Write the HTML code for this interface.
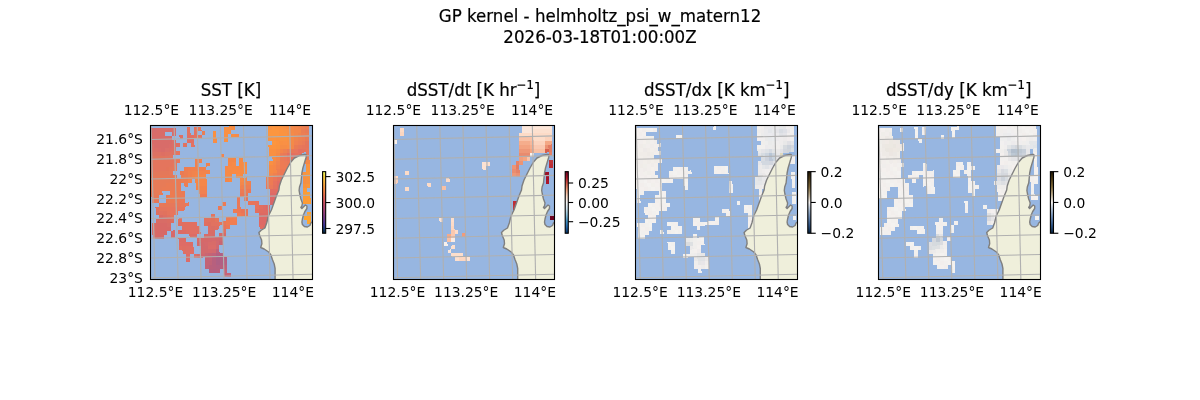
<!DOCTYPE html>
<html><head><meta charset="utf-8"><title>GP kernel - helmholtz_psi_w_matern12</title>
<style>html,body{margin:0;padding:0;background:#fff}svg{display:block}text{font-family:"DejaVu Sans","Liberation Sans",sans-serif;fill:#000}</style></head>
<body>
<svg width="1200" height="400" viewBox="0 0 1200 400">
<rect width="1200" height="400" fill="#fff"/>
<text transform="translate(600 22.1) scale(1 1.1)" font-size="16.67" text-anchor="middle" stroke="#000" stroke-width="0.2">GP kernel - helmholtz_psi_w_matern12</text>
<text transform="translate(600 42.9) scale(1 1.1)" font-size="16.67" text-anchor="middle" stroke="#000" stroke-width="0.2">2026-03-18T01:00:00Z</text>
<g transform="translate(150.5 125.5)"><clipPath id="c0"><rect x="0" y="0" width="162" height="154"/></clipPath><g clip-path="url(#c0)"><rect x="-1" y="-1" width="164" height="156" fill="#97b6e1"/><g transform="translate(0 0)"><g transform="matrix(3.695 -0.082 0.104 3.95 6.6 2.6)" shape-rendering="crispEdges"><rect x="-2" y="0" width="2" height="1" fill="#d56c6c"/><rect x="0" y="0" width="5" height="1" fill="#d86c69"/><rect x="8" y="0" width="1" height="1" fill="#e17260"/><rect x="10" y="0" width="1" height="1" fill="#e4755d"/><rect x="11" y="0" width="1" height="1" fill="#e7785a"/><rect x="18" y="0" width="2" height="1" fill="#f99042"/><rect x="20" y="0" width="1" height="1" fill="#f68d45"/><rect x="30" y="0" width="1" height="1" fill="#f99342"/><rect x="31" y="0" width="1" height="1" fill="#fc963f"/><rect x="32" y="0" width="1" height="1" fill="#fc933f"/><rect x="33" y="0" width="1" height="1" fill="#f99342"/><rect x="34" y="0" width="1" height="1" fill="#f99045"/><rect x="35" y="0" width="1" height="1" fill="#f68d45"/><rect x="36" y="0" width="1" height="1" fill="#f38a4b"/><rect x="37" y="0" width="1" height="1" fill="#f3874b"/><rect x="38" y="0" width="1" height="1" fill="#f0844e"/><rect x="39" y="0" width="1" height="1" fill="#ed8151"/><rect x="40" y="0" width="1" height="1" fill="#ea7e54"/><rect x="-2" y="1" width="4" height="1" fill="#d86c69"/><rect x="4" y="1" width="1" height="1" fill="#d86c69"/><rect x="8" y="1" width="1" height="1" fill="#e17260"/><rect x="10" y="1" width="1" height="1" fill="#e47260"/><rect x="12" y="1" width="1" height="1" fill="#ea7e54"/><rect x="15" y="1" width="1" height="1" fill="#f99042"/><rect x="18" y="1" width="2" height="1" fill="#f99042"/><rect x="30" y="1" width="3" height="1" fill="#fc963f"/><rect x="33" y="1" width="1" height="1" fill="#fc933f"/><rect x="34" y="1" width="1" height="1" fill="#f99342"/><rect x="35" y="1" width="1" height="1" fill="#f99045"/><rect x="36" y="1" width="1" height="1" fill="#f38a48"/><rect x="37" y="1" width="2" height="1" fill="#f3874b"/><rect x="39" y="1" width="1" height="1" fill="#ea7e54"/><rect x="40" y="1" width="1" height="1" fill="#e77b57"/><rect x="-2" y="2" width="6" height="1" fill="#d86c69"/><rect x="6" y="2" width="1" height="1" fill="#de6f63"/><rect x="8" y="2" width="2" height="1" fill="#e16f63"/><rect x="10" y="2" width="1" height="1" fill="#e47260"/><rect x="11" y="2" width="1" height="1" fill="#e4755d"/><rect x="15" y="2" width="1" height="1" fill="#f99042"/><rect x="18" y="2" width="1" height="1" fill="#f99042"/><rect x="20" y="2" width="1" height="1" fill="#f68d45"/><rect x="21" y="2" width="1" height="1" fill="#f68a48"/><rect x="30" y="2" width="3" height="1" fill="#fc963f"/><rect x="33" y="2" width="2" height="1" fill="#fc933f"/><rect x="35" y="2" width="1" height="1" fill="#f99042"/><rect x="36" y="2" width="1" height="1" fill="#f68a48"/><rect x="37" y="2" width="1" height="1" fill="#f3874b"/><rect x="38" y="2" width="1" height="1" fill="#f0844e"/><rect x="39" y="2" width="1" height="1" fill="#ed7e54"/><rect x="40" y="2" width="1" height="1" fill="#ea7e54"/><rect x="-2" y="3" width="6" height="1" fill="#d86c69"/><rect x="4" y="3" width="1" height="1" fill="#db6f69"/><rect x="8" y="3" width="2" height="1" fill="#e16f63"/><rect x="15" y="3" width="1" height="1" fill="#f68d45"/><rect x="18" y="3" width="1" height="1" fill="#f99042"/><rect x="30" y="3" width="1" height="1" fill="#f99342"/><rect x="31" y="3" width="1" height="1" fill="#fc933f"/><rect x="32" y="3" width="1" height="1" fill="#f9933f"/><rect x="33" y="3" width="2" height="1" fill="#f99342"/><rect x="35" y="3" width="1" height="1" fill="#f99042"/><rect x="36" y="3" width="1" height="1" fill="#f38a48"/><rect x="37" y="3" width="1" height="1" fill="#f0844e"/><rect x="38" y="3" width="1" height="1" fill="#ed8151"/><rect x="39" y="3" width="1" height="1" fill="#ed7e54"/><rect x="40" y="3" width="1" height="1" fill="#e77b57"/><rect x="-2" y="4" width="1" height="1" fill="#db6f69"/><rect x="-1" y="4" width="4" height="1" fill="#d86c69"/><rect x="3" y="4" width="1" height="1" fill="#db6c69"/><rect x="4" y="4" width="1" height="1" fill="#db6f66"/><rect x="5" y="4" width="1" height="1" fill="#de6f63"/><rect x="7" y="4" width="1" height="1" fill="#e17260"/><rect x="9" y="4" width="1" height="1" fill="#e47260"/><rect x="31" y="4" width="1" height="1" fill="#fc963f"/><rect x="32" y="4" width="1" height="1" fill="#fc933f"/><rect x="33" y="4" width="1" height="1" fill="#f99042"/><rect x="34" y="4" width="1" height="1" fill="#f99045"/><rect x="35" y="4" width="1" height="1" fill="#f99042"/><rect x="36" y="4" width="1" height="1" fill="#f38a48"/><rect x="37" y="4" width="1" height="1" fill="#f08151"/><rect x="38" y="4" width="1" height="1" fill="#ed7e54"/><rect x="39" y="4" width="1" height="1" fill="#ea7b57"/><rect x="40" y="4" width="1" height="1" fill="#e4755a"/><rect x="-2" y="5" width="2" height="1" fill="#db6f66"/><rect x="0" y="5" width="1" height="1" fill="#db6c69"/><rect x="1" y="5" width="1" height="1" fill="#d86c69"/><rect x="2" y="5" width="1" height="1" fill="#db6f69"/><rect x="3" y="5" width="1" height="1" fill="#db6f66"/><rect x="4" y="5" width="1" height="1" fill="#de6f63"/><rect x="30" y="5" width="1" height="1" fill="#f99342"/><rect x="31" y="5" width="1" height="1" fill="#fc933f"/><rect x="32" y="5" width="1" height="1" fill="#f9933f"/><rect x="33" y="5" width="2" height="1" fill="#f68d45"/><rect x="35" y="5" width="1" height="1" fill="#f98d45"/><rect x="36" y="5" width="1" height="1" fill="#f3874b"/><rect x="37" y="5" width="1" height="1" fill="#ea7b54"/><rect x="38" y="5" width="1" height="1" fill="#e7785a"/><rect x="39" y="5" width="1" height="1" fill="#e7755a"/><rect x="40" y="5" width="1" height="1" fill="#e4755a"/><rect x="-2" y="6" width="3" height="1" fill="#de7263"/><rect x="1" y="6" width="1" height="1" fill="#de6f63"/><rect x="2" y="6" width="2" height="1" fill="#de7263"/><rect x="4" y="6" width="1" height="1" fill="#e17260"/><rect x="5" y="6" width="1" height="1" fill="#e4755d"/><rect x="30" y="6" width="2" height="1" fill="#f99042"/><rect x="32" y="6" width="1" height="1" fill="#f68d45"/><rect x="33" y="6" width="1" height="1" fill="#f3844b"/><rect x="34" y="6" width="1" height="1" fill="#ed8151"/><rect x="35" y="6" width="1" height="1" fill="#ea7b57"/><rect x="36" y="6" width="1" height="1" fill="#e77857"/><rect x="37" y="6" width="1" height="1" fill="#e7755d"/><rect x="38" y="6" width="1" height="1" fill="#e46f60"/><rect x="39" y="6" width="1" height="1" fill="#e4725d"/><rect x="40" y="6" width="1" height="1" fill="#e7755a"/><rect x="-2" y="7" width="1" height="1" fill="#e17560"/><rect x="-1" y="7" width="3" height="1" fill="#e1755d"/><rect x="2" y="7" width="2" height="1" fill="#e17560"/><rect x="17" y="7" width="1" height="1" fill="#f3844b"/><rect x="30" y="7" width="2" height="1" fill="#f99042"/><rect x="32" y="7" width="1" height="1" fill="#f68a45"/><rect x="33" y="7" width="1" height="1" fill="#ed7b54"/><rect x="34" y="7" width="1" height="1" fill="#ea7857"/><rect x="35" y="7" width="2" height="1" fill="#e46f60"/><rect x="37" y="7" width="1" height="1" fill="#e4725d"/><rect x="38" y="7" width="1" height="1" fill="#e47260"/><rect x="40" y="7" width="1" height="1" fill="#e7755a"/><rect x="-2" y="8" width="7" height="1" fill="#e4755d"/><rect x="5" y="8" width="1" height="1" fill="#e7785a"/><rect x="10" y="8" width="2" height="1" fill="#f0814e"/><rect x="19" y="8" width="2" height="1" fill="#f38748"/><rect x="22" y="8" width="1" height="1" fill="#f68a45"/><rect x="31" y="8" width="1" height="1" fill="#f68d45"/><rect x="32" y="8" width="1" height="1" fill="#f3874b"/><rect x="33" y="8" width="1" height="1" fill="#ea7b57"/><rect x="34" y="8" width="1" height="1" fill="#ea785a"/><rect x="35" y="8" width="1" height="1" fill="#e7755a"/><rect x="36" y="8" width="1" height="1" fill="#e4725d"/><rect x="37" y="8" width="2" height="1" fill="#e7755a"/><rect x="39" y="8" width="1" height="1" fill="#e77857"/><rect x="40" y="8" width="1" height="1" fill="#ea7b54"/><rect x="-2" y="9" width="6" height="1" fill="#e4755d"/><rect x="4" y="9" width="1" height="1" fill="#e7785a"/><rect x="10" y="9" width="1" height="1" fill="#f0814e"/><rect x="13" y="9" width="1" height="1" fill="#f0814e"/><rect x="19" y="9" width="1" height="1" fill="#f68748"/><rect x="20" y="9" width="1" height="1" fill="#f68a48"/><rect x="22" y="9" width="1" height="1" fill="#f68a45"/><rect x="23" y="9" width="1" height="1" fill="#f98d42"/><rect x="30" y="9" width="1" height="1" fill="#f99042"/><rect x="31" y="9" width="1" height="1" fill="#f68a48"/><rect x="32" y="9" width="1" height="1" fill="#f0844e"/><rect x="33" y="9" width="1" height="1" fill="#ed7b54"/><rect x="34" y="9" width="1" height="1" fill="#ea7b57"/><rect x="35" y="9" width="2" height="1" fill="#ea7857"/><rect x="37" y="9" width="1" height="1" fill="#ea7b54"/><rect x="38" y="9" width="1" height="1" fill="#ed7e51"/><rect x="39" y="9" width="1" height="1" fill="#f0844e"/><rect x="40" y="9" width="1" height="1" fill="#f38748"/><rect x="-2" y="10" width="4" height="1" fill="#e4755d"/><rect x="2" y="10" width="1" height="1" fill="#e4755a"/><rect x="3" y="10" width="1" height="1" fill="#e4785a"/><rect x="4" y="10" width="1" height="1" fill="#e7785a"/><rect x="7" y="10" width="1" height="1" fill="#ed7e51"/><rect x="8" y="10" width="1" height="1" fill="#f07e51"/><rect x="9" y="10" width="4" height="1" fill="#f0814e"/><rect x="18" y="10" width="1" height="1" fill="#f68748"/><rect x="19" y="10" width="1" height="1" fill="#f68a48"/><rect x="20" y="10" width="3" height="1" fill="#f68a45"/><rect x="23" y="10" width="1" height="1" fill="#f98d45"/><rect x="30" y="10" width="1" height="1" fill="#f68a45"/><rect x="31" y="10" width="1" height="1" fill="#f68748"/><rect x="32" y="10" width="1" height="1" fill="#f0814e"/><rect x="33" y="10" width="3" height="1" fill="#ed7b54"/><rect x="40" y="10" width="1" height="1" fill="#f9933f"/><rect x="-2" y="11" width="5" height="1" fill="#e4785a"/><rect x="3" y="11" width="1" height="1" fill="#e7785a"/><rect x="6" y="11" width="1" height="1" fill="#ea7b54"/><rect x="7" y="11" width="1" height="1" fill="#ed7e51"/><rect x="8" y="11" width="1" height="1" fill="#f0814e"/><rect x="9" y="11" width="1" height="1" fill="#f0844e"/><rect x="10" y="11" width="4" height="1" fill="#f3844b"/><rect x="18" y="11" width="1" height="1" fill="#f68a48"/><rect x="19" y="11" width="1" height="1" fill="#f68a45"/><rect x="20" y="11" width="2" height="1" fill="#f98a45"/><rect x="22" y="11" width="2" height="1" fill="#f68a45"/><rect x="30" y="11" width="1" height="1" fill="#f68a45"/><rect x="31" y="11" width="1" height="1" fill="#f68748"/><rect x="32" y="11" width="1" height="1" fill="#ed7e51"/><rect x="33" y="11" width="2" height="1" fill="#ed7854"/><rect x="35" y="11" width="1" height="1" fill="#ed7b54"/><rect x="40" y="11" width="1" height="1" fill="#f9963c"/><rect x="-2" y="12" width="6" height="1" fill="#e77857"/><rect x="4" y="12" width="1" height="1" fill="#e77b57"/><rect x="6" y="12" width="1" height="1" fill="#ea7e54"/><rect x="7" y="12" width="1" height="1" fill="#ed7e51"/><rect x="8" y="12" width="1" height="1" fill="#f0814e"/><rect x="9" y="12" width="1" height="1" fill="#f3844b"/><rect x="10" y="12" width="3" height="1" fill="#f68748"/><rect x="18" y="12" width="1" height="1" fill="#f68a48"/><rect x="19" y="12" width="1" height="1" fill="#f68a45"/><rect x="21" y="12" width="1" height="1" fill="#f98d45"/><rect x="22" y="12" width="1" height="1" fill="#f68a45"/><rect x="30" y="12" width="1" height="1" fill="#f3874b"/><rect x="31" y="12" width="1" height="1" fill="#f0814e"/><rect x="32" y="12" width="1" height="1" fill="#ed7b54"/><rect x="33" y="12" width="2" height="1" fill="#ed7854"/><rect x="35" y="12" width="1" height="1" fill="#ed7b54"/><rect x="39" y="12" width="1" height="1" fill="#f9933f"/><rect x="40" y="12" width="1" height="1" fill="#f9963c"/><rect x="-2" y="13" width="6" height="1" fill="#e77b57"/><rect x="4" y="13" width="1" height="1" fill="#ea7b57"/><rect x="5" y="13" width="1" height="1" fill="#ea7b54"/><rect x="6" y="13" width="1" height="1" fill="#ea7e54"/><rect x="7" y="13" width="1" height="1" fill="#ed7e51"/><rect x="8" y="13" width="1" height="1" fill="#f0844e"/><rect x="10" y="13" width="3" height="1" fill="#f68748"/><rect x="18" y="13" width="1" height="1" fill="#f38748"/><rect x="19" y="13" width="1" height="1" fill="#f68a45"/><rect x="22" y="13" width="1" height="1" fill="#f68a48"/><rect x="23" y="13" width="1" height="1" fill="#f38748"/><rect x="29" y="13" width="1" height="1" fill="#ed7e54"/><rect x="30" y="13" width="1" height="1" fill="#ed7b54"/><rect x="31" y="13" width="1" height="1" fill="#ea755a"/><rect x="32" y="13" width="1" height="1" fill="#e4725d"/><rect x="33" y="13" width="1" height="1" fill="#e7725a"/><rect x="34" y="13" width="1" height="1" fill="#ea7557"/><rect x="35" y="13" width="1" height="1" fill="#ea7b54"/><rect x="39" y="13" width="1" height="1" fill="#f69042"/><rect x="40" y="13" width="1" height="1" fill="#f6933f"/><rect x="-2" y="14" width="4" height="1" fill="#e77b57"/><rect x="2" y="14" width="4" height="1" fill="#ea7b54"/><rect x="7" y="14" width="1" height="1" fill="#ed7e51"/><rect x="10" y="14" width="3" height="1" fill="#f68748"/><rect x="22" y="14" width="1" height="1" fill="#f3874b"/><rect x="23" y="14" width="1" height="1" fill="#f0844b"/><rect x="24" y="14" width="1" height="1" fill="#f0814e"/><rect x="29" y="14" width="2" height="1" fill="#ed7b54"/><rect x="31" y="14" width="1" height="1" fill="#e7725d"/><rect x="32" y="14" width="1" height="1" fill="#e16c63"/><rect x="33" y="14" width="1" height="1" fill="#e46f60"/><rect x="34" y="14" width="1" height="1" fill="#e7725d"/><rect x="35" y="14" width="1" height="1" fill="#ea7857"/><rect x="39" y="14" width="1" height="1" fill="#f68d42"/><rect x="40" y="14" width="1" height="1" fill="#f69042"/><rect x="-2" y="15" width="3" height="1" fill="#e77b57"/><rect x="1" y="15" width="5" height="1" fill="#ea7b54"/><rect x="10" y="15" width="3" height="1" fill="#f3844b"/><rect x="22" y="15" width="1" height="1" fill="#f0814e"/><rect x="23" y="15" width="1" height="1" fill="#ed7e51"/><rect x="24" y="15" width="1" height="1" fill="#ed7e54"/><rect x="29" y="15" width="1" height="1" fill="#ea7857"/><rect x="30" y="15" width="1" height="1" fill="#ea785a"/><rect x="31" y="15" width="1" height="1" fill="#e4725d"/><rect x="32" y="15" width="1" height="1" fill="#e16c63"/><rect x="33" y="15" width="1" height="1" fill="#e46f60"/><rect x="34" y="15" width="1" height="1" fill="#e4725d"/><rect x="35" y="15" width="1" height="1" fill="#ea7857"/><rect x="39" y="15" width="1" height="1" fill="#f6933f"/><rect x="40" y="15" width="1" height="1" fill="#f9963c"/><rect x="-2" y="16" width="1" height="1" fill="#e77857"/><rect x="-1" y="16" width="1" height="1" fill="#e77b57"/><rect x="0" y="16" width="1" height="1" fill="#ea7b54"/><rect x="3" y="16" width="1" height="1" fill="#ed7b51"/><rect x="4" y="16" width="3" height="1" fill="#ea7b54"/><rect x="11" y="16" width="2" height="1" fill="#f08151"/><rect x="22" y="16" width="2" height="1" fill="#ed7b54"/><rect x="24" y="16" width="1" height="1" fill="#ea7857"/><rect x="30" y="16" width="2" height="1" fill="#e16c63"/><rect x="32" y="16" width="1" height="1" fill="#e16c60"/><rect x="39" y="16" width="1" height="1" fill="#fc9939"/><rect x="-2" y="17" width="2" height="1" fill="#e77857"/><rect x="2" y="17" width="2" height="1" fill="#ed7b51"/><rect x="4" y="17" width="2" height="1" fill="#ea7b54"/><rect x="6" y="17" width="1" height="1" fill="#ea7b57"/><rect x="11" y="17" width="2" height="1" fill="#ed7b54"/><rect x="22" y="17" width="2" height="1" fill="#ea7857"/><rect x="30" y="17" width="2" height="1" fill="#de6966"/><rect x="32" y="17" width="1" height="1" fill="#e16c63"/><rect x="39" y="17" width="1" height="1" fill="#fc9c36"/><rect x="40" y="17" width="1" height="1" fill="#fc9f33"/><rect x="-2" y="18" width="1" height="1" fill="#e7785a"/><rect x="-1" y="18" width="1" height="1" fill="#e77857"/><rect x="2" y="18" width="2" height="1" fill="#ea7b54"/><rect x="4" y="18" width="1" height="1" fill="#ea7b57"/><rect x="5" y="18" width="2" height="1" fill="#ea7857"/><rect x="21" y="18" width="1" height="1" fill="#ea7857"/><rect x="23" y="18" width="1" height="1" fill="#e7755a"/><rect x="30" y="18" width="2" height="1" fill="#db6666"/><rect x="32" y="18" width="1" height="1" fill="#de6963"/><rect x="39" y="18" width="2" height="1" fill="#fc9c36"/><rect x="0" y="19" width="1" height="1" fill="#e7785a"/><rect x="1" y="19" width="2" height="1" fill="#e77857"/><rect x="3" y="19" width="4" height="1" fill="#e7785a"/><rect x="7" y="19" width="1" height="1" fill="#ea7857"/><rect x="17" y="19" width="1" height="1" fill="#ed7b54"/><rect x="21" y="19" width="1" height="1" fill="#ea7857"/><rect x="24" y="19" width="2" height="1" fill="#e7755a"/><rect x="26" y="19" width="1" height="1" fill="#e7725d"/><rect x="30" y="19" width="2" height="1" fill="#d86669"/><rect x="32" y="19" width="1" height="1" fill="#db6966"/><rect x="39" y="19" width="2" height="1" fill="#fc9c36"/><rect x="-1" y="20" width="1" height="1" fill="#e1725d"/><rect x="0" y="20" width="2" height="1" fill="#e4755d"/><rect x="2" y="20" width="1" height="1" fill="#e7755a"/><rect x="3" y="20" width="3" height="1" fill="#e7755d"/><rect x="6" y="20" width="1" height="1" fill="#e7755a"/><rect x="16" y="20" width="1" height="1" fill="#ed7854"/><rect x="21" y="20" width="1" height="1" fill="#ea7857"/><rect x="26" y="20" width="1" height="1" fill="#e7725d"/><rect x="27" y="20" width="1" height="1" fill="#e16f60"/><rect x="28" y="20" width="1" height="1" fill="#de6c63"/><rect x="29" y="20" width="1" height="1" fill="#db6966"/><rect x="-1" y="21" width="1" height="1" fill="#de6f60"/><rect x="0" y="21" width="1" height="1" fill="#e17260"/><rect x="1" y="21" width="1" height="1" fill="#e1725d"/><rect x="2" y="21" width="1" height="1" fill="#e4755d"/><rect x="3" y="21" width="2" height="1" fill="#e7755d"/><rect x="20" y="21" width="1" height="1" fill="#ed7b54"/><rect x="21" y="21" width="1" height="1" fill="#ed7857"/><rect x="22" y="21" width="1" height="1" fill="#ea7557"/><rect x="23" y="21" width="1" height="1" fill="#e7755a"/><rect x="26" y="21" width="1" height="1" fill="#e46f5d"/><rect x="27" y="21" width="1" height="1" fill="#e16c60"/><rect x="28" y="21" width="1" height="1" fill="#de6c63"/><rect x="29" y="21" width="1" height="1" fill="#de6963"/><rect x="0" y="22" width="1" height="1" fill="#db6c63"/><rect x="1" y="22" width="1" height="1" fill="#de6f63"/><rect x="2" y="22" width="1" height="1" fill="#e17260"/><rect x="3" y="22" width="1" height="1" fill="#e4755d"/><rect x="14" y="22" width="1" height="1" fill="#e4755d"/><rect x="21" y="22" width="1" height="1" fill="#f07b54"/><rect x="22" y="22" width="1" height="1" fill="#ed7857"/><rect x="23" y="22" width="1" height="1" fill="#e7755a"/><rect x="27" y="22" width="2" height="1" fill="#de6963"/><rect x="29" y="22" width="1" height="1" fill="#de6c63"/><rect x="40" y="22" width="1" height="1" fill="#fca230"/><rect x="-1" y="23" width="3" height="1" fill="#d86c66"/><rect x="2" y="23" width="1" height="1" fill="#db6c63"/><rect x="3" y="23" width="1" height="1" fill="#de6f60"/><rect x="5" y="23" width="1" height="1" fill="#e17260"/><rect x="12" y="23" width="2" height="1" fill="#e17260"/><rect x="14" y="23" width="1" height="1" fill="#e1725d"/><rect x="15" y="23" width="1" height="1" fill="#e4755d"/><rect x="18" y="23" width="1" height="1" fill="#ed7b54"/><rect x="19" y="23" width="1" height="1" fill="#f07e51"/><rect x="20" y="23" width="1" height="1" fill="#f37e51"/><rect x="27" y="23" width="2" height="1" fill="#de6966"/><rect x="29" y="23" width="1" height="1" fill="#de6963"/><rect x="39" y="23" width="2" height="1" fill="#ffa52d"/><rect x="-2" y="24" width="1" height="1" fill="#d86c66"/><rect x="-1" y="24" width="3" height="1" fill="#d86966"/><rect x="2" y="24" width="1" height="1" fill="#d86c66"/><rect x="5" y="24" width="1" height="1" fill="#de6f63"/><rect x="6" y="24" width="4" height="1" fill="#e16f60"/><rect x="12" y="24" width="1" height="1" fill="#e16f60"/><rect x="13" y="24" width="1" height="1" fill="#de6f60"/><rect x="14" y="24" width="2" height="1" fill="#e17260"/><rect x="16" y="24" width="1" height="1" fill="#e4755d"/><rect x="17" y="24" width="1" height="1" fill="#e7785a"/><rect x="18" y="24" width="1" height="1" fill="#ed7b54"/><rect x="19" y="24" width="2" height="1" fill="#f07e51"/><rect x="27" y="24" width="2" height="1" fill="#de6966"/><rect x="29" y="24" width="1" height="1" fill="#de6963"/><rect x="40" y="24" width="1" height="1" fill="#ffa52d"/><rect x="-2" y="25" width="1" height="1" fill="#d86c66"/><rect x="-1" y="25" width="4" height="1" fill="#d86966"/><rect x="6" y="25" width="1" height="1" fill="#de6f63"/><rect x="7" y="25" width="4" height="1" fill="#e16f60"/><rect x="13" y="25" width="1" height="1" fill="#de6f63"/><rect x="14" y="25" width="1" height="1" fill="#db6f63"/><rect x="15" y="25" width="1" height="1" fill="#de6f63"/><rect x="17" y="25" width="1" height="1" fill="#e4755d"/><rect x="18" y="25" width="1" height="1" fill="#ea7857"/><rect x="27" y="25" width="1" height="1" fill="#e16c63"/><rect x="28" y="25" width="1" height="1" fill="#de6963"/><rect x="29" y="25" width="1" height="1" fill="#de6c63"/><rect x="-2" y="26" width="1" height="1" fill="#d86c66"/><rect x="-1" y="26" width="3" height="1" fill="#d86966"/><rect x="3" y="26" width="1" height="1" fill="#d86969"/><rect x="5" y="26" width="1" height="1" fill="#db6c66"/><rect x="6" y="26" width="1" height="1" fill="#de6c63"/><rect x="7" y="26" width="1" height="1" fill="#de6f63"/><rect x="8" y="26" width="2" height="1" fill="#e16f63"/><rect x="10" y="26" width="1" height="1" fill="#de6f63"/><rect x="13" y="26" width="2" height="1" fill="#d86c66"/><rect x="17" y="26" width="1" height="1" fill="#de7263"/><rect x="-2" y="27" width="1" height="1" fill="#d86c66"/><rect x="-1" y="27" width="2" height="1" fill="#d86966"/><rect x="3" y="27" width="1" height="1" fill="#d56969"/><rect x="8" y="27" width="1" height="1" fill="#de6c63"/><rect x="9" y="27" width="1" height="1" fill="#db6c66"/><rect x="12" y="27" width="2" height="1" fill="#d86c69"/><rect x="14" y="27" width="1" height="1" fill="#d56c69"/><rect x="16" y="27" width="2" height="1" fill="#d56c69"/><rect x="5" y="28" width="2" height="1" fill="#db6c66"/><rect x="10" y="28" width="1" height="1" fill="#d86c69"/><rect x="11" y="28" width="2" height="1" fill="#d56969"/><rect x="13" y="28" width="2" height="1" fill="#d5696c"/><rect x="15" y="28" width="1" height="1" fill="#d2696c"/><rect x="16" y="28" width="1" height="1" fill="#cf696f"/><rect x="5" y="29" width="3" height="1" fill="#de6c66"/><rect x="8" y="29" width="1" height="1" fill="#db6c66"/><rect x="10" y="29" width="1" height="1" fill="#d56969"/><rect x="11" y="29" width="1" height="1" fill="#d2696c"/><rect x="12" y="29" width="1" height="1" fill="#d5696c"/><rect x="13" y="29" width="2" height="1" fill="#d86c69"/><rect x="15" y="29" width="1" height="1" fill="#d2696f"/><rect x="16" y="29" width="1" height="1" fill="#c96672"/><rect x="5" y="30" width="1" height="1" fill="#e16f63"/><rect x="6" y="30" width="1" height="1" fill="#de6f63"/><rect x="7" y="30" width="2" height="1" fill="#de6f66"/><rect x="11" y="30" width="2" height="1" fill="#d2696c"/><rect x="13" y="30" width="2" height="1" fill="#db6c69"/><rect x="15" y="30" width="1" height="1" fill="#cf6972"/><rect x="6" y="31" width="1" height="1" fill="#de6f63"/><rect x="7" y="31" width="1" height="1" fill="#de6f66"/><rect x="8" y="31" width="1" height="1" fill="#e16f66"/><rect x="11" y="31" width="2" height="1" fill="#d2696c"/><rect x="13" y="31" width="1" height="1" fill="#d5696c"/><rect x="14" y="31" width="1" height="1" fill="#d2696f"/><rect x="15" y="31" width="1" height="1" fill="#bd637b"/><rect x="7" y="32" width="1" height="1" fill="#de6c66"/><rect x="9" y="32" width="1" height="1" fill="#de6f66"/><rect x="10" y="32" width="1" height="1" fill="#d86c69"/><rect x="11" y="32" width="1" height="1" fill="#cf666f"/><rect x="12" y="32" width="1" height="1" fill="#c96672"/><rect x="13" y="32" width="1" height="1" fill="#c66375"/><rect x="14" y="32" width="1" height="1" fill="#c0637b"/><rect x="15" y="32" width="1" height="1" fill="#b46081"/><rect x="16" y="32" width="1" height="1" fill="#b16084"/><rect x="7" y="33" width="1" height="1" fill="#db6c69"/><rect x="12" y="33" width="1" height="1" fill="#c36375"/><rect x="13" y="33" width="1" height="1" fill="#c36378"/><rect x="14" y="33" width="1" height="1" fill="#b7607e"/><rect x="15" y="33" width="1" height="1" fill="#ae6084"/><rect x="16" y="33" width="1" height="1" fill="#b16084"/><rect x="17" y="33" width="1" height="1" fill="#b46081"/><rect x="12" y="34" width="1" height="1" fill="#c36375"/><rect x="13" y="34" width="1" height="1" fill="#c06378"/><rect x="14" y="34" width="1" height="1" fill="#b7607e"/><rect x="15" y="34" width="1" height="1" fill="#ae6084"/><rect x="16" y="34" width="1" height="1" fill="#b16084"/><rect x="17" y="34" width="1" height="1" fill="#b76081"/><rect x="12" y="35" width="1" height="1" fill="#c06378"/><rect x="13" y="35" width="1" height="1" fill="#ba607b"/><rect x="14" y="35" width="1" height="1" fill="#b7607e"/><rect x="15" y="35" width="1" height="1" fill="#b46081"/><rect x="16" y="35" width="1" height="1" fill="#b7607e"/><rect x="17" y="35" width="1" height="1" fill="#bd637b"/><rect x="13" y="36" width="1" height="1" fill="#b7607e"/><rect x="14" y="36" width="1" height="1" fill="#b46081"/><rect x="15" y="36" width="1" height="1" fill="#b7607e"/><rect x="17" y="36" width="1" height="1" fill="#c66378"/><rect x="17" y="37" width="1" height="1" fill="#c66378"/><rect x="18" y="37" width="1" height="1" fill="#c96378"/></g><g transform="translate(0.4 0)"><path d="M155 29 L153.5 29 L148.5 30 L143.5 32.5 L140 36.5 L136.5 42.5 L133.5 48.5 L130.5 54.5 L128.5 60.5 L128 64.5 L125.5 70.5 L123 77.5 L120.5 84.5 L117.5 90.5 L115.8 97.5 L114 102.5 L110.25 104.75 L108 107 L108.75 110 L110.7 114.5 L111 118.25 L109.8 122 L113.25 123.5 L117.75 126.5 L120 129.5 L121.5 134 L123.3 138.5 L124.2 143 L124.2 155 L164 155 L164 94 L160 97.5 L159 100 L156.5 101.5 L153.5 101 L151.5 99 L151 96.5 L151.5 93.5 L152.5 89.5 L154 86 L156 83 L156 80.5 L154.5 79.5 L153 81 L151 83 L150 82 L151 80.5 L151.5 77.5 L150 73.5 L148.8 68.5 L148.2 65 L148.6 61.5 L150 57.5 L150.5 52.5 L151 47.5 L152 42.5 L153.5 37.5 L155 32.5 L155.5 30 L155 29Z" fill="#efefdb"/><path d="M164 94 L160 97.5 L159 100 L156.5 101.5 L153.5 101 L151.5 99 L151 96.5 L151.5 93.5 L152.5 89.5 L154 86 L156 83 L156 80.5 L154.5 79.5 L153 81 L151 83 L150 82 L151 80.5 L151.5 77.5 L150 73.5 L148.8 68.5 L148.2 65 L148.6 61.5 L150 57.5 L150.5 52.5 L151 47.5 L152 42.5 L153.5 37.5 L155 32.5 L155.5 30 L155 29 L153.5 29 L148.5 30 L143.5 32.5 L140 36.5 L136.5 42.5 L133.5 48.5 L130.5 54.5 L128.5 60.5 L128 64.5 L125.5 70.5 L123 77.5 L120.5 84.5 L117.5 90.5 L115.8 97.5 L114 102.5 L110.25 104.75 L108 107 L108.75 110 L110.7 114.5 L111 118.25 L109.8 122 L113.25 123.5 L117.75 126.5 L120 129.5 L121.5 134 L123.3 138.5 L124.2 143 L124.2 155" fill="none" stroke="#7f7f7f" stroke-width="1.4" stroke-linejoin="round"/></g><g stroke="#b0b0b0" stroke-width="1.1" fill="none"><path d="M0.5 0L4.55 153.7"/><path d="M23.62 0L27.55 153.7"/><path d="M46.74 0L50.55 153.7"/><path d="M69.86 0L73.55 153.7"/><path d="M92.98 0L96.55 153.7"/><path d="M116.1 0L119.55 153.7"/><path d="M139.22 0L142.55 153.7"/><path d="M0 -5.76L162 -9.35"/><path d="M0 14L162 10.4"/><path d="M0 33.76L162 30.16"/><path d="M0 53.51L162 49.92"/><path d="M0 73.27L162 69.67"/><path d="M0 93.03L162 89.43"/><path d="M0 112.79L162 109.19"/><path d="M0 132.54L162 128.95"/><path d="M0 152.3L162 148.7"/><path d="M0 172.06L162 168.46"/></g></g></g><rect x="0" y="0" width="162" height="154" fill="none" stroke="#000" stroke-width="1.1"/></g>
<text transform="translate(230.9 96) scale(1 1.09)" font-size="16.67" text-anchor="middle" stroke="#000" stroke-width="0.2">SST [K]</text>
<text x="151.4" y="115.1" font-size="13.89" text-anchor="middle">112.5°E</text><text x="155.5" y="297.4" font-size="13.89" text-anchor="middle">112.5°E</text><text x="220.7" y="115.1" font-size="13.89" text-anchor="middle">113.25°E</text><text x="224.2" y="297.4" font-size="13.89" text-anchor="middle">113.25°E</text><text x="290" y="115.1" font-size="13.89" text-anchor="middle">114°E</text><text x="292.9" y="297.4" font-size="13.89" text-anchor="middle">114°E</text><text x="142.9" y="144.25" font-size="13.89" text-anchor="end">21.6°S</text><text x="142.9" y="164.01" font-size="13.89" text-anchor="end">21.8°S</text><text x="142.9" y="183.76" font-size="13.89" text-anchor="end">22°S</text><text x="142.9" y="203.52" font-size="13.89" text-anchor="end">22.2°S</text><text x="142.9" y="223.28" font-size="13.89" text-anchor="end">22.4°S</text><text x="142.9" y="243.04" font-size="13.89" text-anchor="end">22.6°S</text><text x="142.9" y="262.79" font-size="13.89" text-anchor="end">22.8°S</text><text x="142.9" y="282.55" font-size="13.89" text-anchor="end">23°S</text>
<linearGradient id="g0" x1="0" y1="0" x2="0" y2="1"><stop offset="0" stop-color="#e8fa5b"/><stop offset="0.08" stop-color="#f9d141"/><stop offset="0.2" stop-color="#fba83b"/><stop offset="0.33" stop-color="#f47e43"/><stop offset="0.45" stop-color="#de5a5a"/><stop offset="0.57" stop-color="#b9496f"/><stop offset="0.68" stop-color="#91407f"/><stop offset="0.78" stop-color="#693a8f"/><stop offset="0.87" stop-color="#3f3599"/><stop offset="0.93" stop-color="#163a73"/><stop offset="1" stop-color="#042333"/></linearGradient><rect x="322.6" y="171.65" width="3.08" height="61.6" fill="url(#g0)" stroke="#000" stroke-width="1.1"/><path d="M325.68 176.6h4.86" stroke="#000" stroke-width="1.1"/><text x="335.38" y="181.65" font-size="13.89" text-anchor="start">302.5</text><path d="M325.68 202.55h4.86" stroke="#000" stroke-width="1.1"/><text x="335.38" y="207.6" font-size="13.89" text-anchor="start">300.0</text><path d="M325.68 228.5h4.86" stroke="#000" stroke-width="1.1"/><text x="335.38" y="233.55" font-size="13.89" text-anchor="start">297.5</text>
<g transform="translate(393.5 125.5)"><clipPath id="c1"><rect x="0" y="0" width="161" height="154"/></clipPath><g clip-path="url(#c1)"><rect x="-1" y="-1" width="163" height="156" fill="#97b6e1"/><g transform="translate(-0.4 0)"><g transform="matrix(3.695 -0.082 0.104 3.95 7 2.6)" shape-rendering="crispEdges"><rect x="0" y="0" width="1" height="1" fill="#fddbc7"/><rect x="33" y="0" width="3" height="1" fill="#fbe6da"/><rect x="36" y="0" width="5" height="1" fill="#fbe5d8"/><rect x="0" y="1" width="1" height="1" fill="#fcd6c0"/><rect x="33" y="1" width="3" height="1" fill="#fbe6da"/><rect x="36" y="1" width="5" height="1" fill="#fce0cf"/><rect x="32" y="2" width="9" height="1" fill="#fddbc7"/><rect x="-2" y="3" width="1" height="1" fill="#f9efe9"/><rect x="32" y="3" width="4" height="1" fill="#f9c1a6"/><rect x="36" y="3" width="3" height="1" fill="#fddcc8"/><rect x="39" y="3" width="2" height="1" fill="#fbd2bb"/><rect x="32" y="4" width="3" height="1" fill="#f5ad8c"/><rect x="35" y="4" width="1" height="1" fill="#f7b89a"/><rect x="36" y="4" width="3" height="1" fill="#fcd3bd"/><rect x="39" y="4" width="2" height="1" fill="#f4a885"/><rect x="32" y="5" width="3" height="1" fill="#f3a381"/><rect x="35" y="5" width="1" height="1" fill="#f6ae8e"/><rect x="36" y="5" width="3" height="1" fill="#fac9b1"/><rect x="39" y="5" width="1" height="1" fill="#ec9273"/><rect x="40" y="5" width="1" height="1" fill="#e27c62"/><rect x="32" y="6" width="3" height="1" fill="#ee9777"/><rect x="35" y="6" width="1" height="1" fill="#f4a582"/><rect x="36" y="6" width="3" height="1" fill="#f8c0a4"/><rect x="39" y="6" width="1" height="1" fill="#d6604d"/><rect x="40" y="6" width="1" height="1" fill="#e27c62"/><rect x="32" y="7" width="3" height="1" fill="#e98b6e"/><rect x="35" y="7" width="1" height="1" fill="#f8f3f0"/><rect x="40" y="7" width="1" height="1" fill="#e58268"/><rect x="32" y="8" width="1" height="1" fill="#f19e7d"/><rect x="33" y="8" width="1" height="1" fill="#f4a582"/><rect x="34" y="8" width="1" height="1" fill="#f9c5ab"/><rect x="22" y="9" width="1" height="1" fill="#fce2d3"/><rect x="23" y="9" width="1" height="1" fill="#fcdfce"/><rect x="31" y="9" width="1" height="1" fill="#e58268"/><rect x="32" y="9" width="1" height="1" fill="#ec9475"/><rect x="40" y="9" width="1" height="1" fill="#c03539"/><rect x="22" y="10" width="1" height="1" fill="#fce2d3"/><rect x="30" y="10" width="1" height="1" fill="#ec9475"/><rect x="31" y="10" width="1" height="1" fill="#e27c62"/><rect x="40" y="10" width="1" height="1" fill="#bd2e35"/><rect x="1" y="11" width="1" height="1" fill="#fddbc7"/><rect x="30" y="11" width="1" height="1" fill="#ea8d6f"/><rect x="31" y="11" width="1" height="1" fill="#e58268"/><rect x="-2" y="12" width="1" height="1" fill="#fcd6c0"/><rect x="30" y="12" width="1" height="1" fill="#ee9777"/><rect x="31" y="12" width="1" height="1" fill="#eb9072"/><rect x="39" y="12" width="1" height="1" fill="#9c1127"/><rect x="-2" y="13" width="1" height="1" fill="#fbd0b9"/><rect x="12" y="13" width="1" height="1" fill="#fddbc7"/><rect x="39" y="13" width="1" height="1" fill="#a31329"/><rect x="7" y="14" width="1" height="1" fill="#fddbc7"/><rect x="39" y="14" width="1" height="1" fill="#ab162a"/><rect x="1" y="15" width="1" height="1" fill="#fddbc7"/><rect x="11" y="15" width="1" height="1" fill="#f8c0a4"/><rect x="30" y="19" width="1" height="1" fill="#bd2e35"/><rect x="30" y="20" width="1" height="1" fill="#c03539"/><rect x="30" y="21" width="1" height="1" fill="#bd2e35"/><rect x="10" y="23" width="1" height="1" fill="#fbe3d5"/><rect x="13" y="23" width="1" height="1" fill="#fcdfce"/><rect x="40" y="23" width="1" height="1" fill="#6e0220"/><rect x="13" y="24" width="1" height="1" fill="#fddbc7"/><rect x="13" y="25" width="1" height="1" fill="#fcd6c0"/><rect x="13" y="26" width="1" height="1" fill="#fac8af"/><rect x="14" y="26" width="1" height="1" fill="#fddcc9"/><rect x="12" y="27" width="1" height="1" fill="#f5aa89"/><rect x="13" y="27" width="1" height="1" fill="#fac8af"/><rect x="16" y="27" width="1" height="1" fill="#f09b7a"/><rect x="12" y="28" width="1" height="1" fill="#f8c0a4"/><rect x="13" y="28" width="1" height="1" fill="#f9ece4"/><rect x="11" y="29" width="1" height="1" fill="#f8f0eb"/><rect x="13" y="30" width="1" height="1" fill="#fcdfce"/><rect x="12" y="31" width="1" height="1" fill="#fbe5d8"/><rect x="13" y="32" width="3" height="1" fill="#fcdecc"/><rect x="14" y="33" width="1" height="1" fill="#fcdfce"/><rect x="15" y="33" width="2" height="1" fill="#fcd6c0"/><rect x="17" y="33" width="1" height="1" fill="#fce2d3"/></g><g transform="translate(0.4 0)"><path d="M155 29 L153.5 29 L148.5 30 L143.5 32.5 L140 36.5 L136.5 42.5 L133.5 48.5 L130.5 54.5 L128.5 60.5 L128 64.5 L125.5 70.5 L123 77.5 L120.5 84.5 L117.5 90.5 L115.8 97.5 L114 102.5 L110.25 104.75 L108 107 L108.75 110 L110.7 114.5 L111 118.25 L109.8 122 L113.25 123.5 L117.75 126.5 L120 129.5 L121.5 134 L123.3 138.5 L124.2 143 L124.2 155 L164 155 L164 94 L160 97.5 L159 100 L156.5 101.5 L153.5 101 L151.5 99 L151 96.5 L151.5 93.5 L152.5 89.5 L154 86 L156 83 L156 80.5 L154.5 79.5 L153 81 L151 83 L150 82 L151 80.5 L151.5 77.5 L150 73.5 L148.8 68.5 L148.2 65 L148.6 61.5 L150 57.5 L150.5 52.5 L151 47.5 L152 42.5 L153.5 37.5 L155 32.5 L155.5 30 L155 29Z" fill="#efefdb"/><path d="M164 94 L160 97.5 L159 100 L156.5 101.5 L153.5 101 L151.5 99 L151 96.5 L151.5 93.5 L152.5 89.5 L154 86 L156 83 L156 80.5 L154.5 79.5 L153 81 L151 83 L150 82 L151 80.5 L151.5 77.5 L150 73.5 L148.8 68.5 L148.2 65 L148.6 61.5 L150 57.5 L150.5 52.5 L151 47.5 L152 42.5 L153.5 37.5 L155 32.5 L155.5 30 L155 29 L153.5 29 L148.5 30 L143.5 32.5 L140 36.5 L136.5 42.5 L133.5 48.5 L130.5 54.5 L128.5 60.5 L128 64.5 L125.5 70.5 L123 77.5 L120.5 84.5 L117.5 90.5 L115.8 97.5 L114 102.5 L110.25 104.75 L108 107 L108.75 110 L110.7 114.5 L111 118.25 L109.8 122 L113.25 123.5 L117.75 126.5 L120 129.5 L121.5 134 L123.3 138.5 L124.2 143 L124.2 155" fill="none" stroke="#7f7f7f" stroke-width="1.4" stroke-linejoin="round"/></g><g stroke="#b0b0b0" stroke-width="1.1" fill="none"><path d="M0.5 0L4.55 153.7"/><path d="M23.62 0L27.55 153.7"/><path d="M46.74 0L50.55 153.7"/><path d="M69.86 0L73.55 153.7"/><path d="M92.98 0L96.55 153.7"/><path d="M116.1 0L119.55 153.7"/><path d="M139.22 0L142.55 153.7"/><path d="M0 -5.76L162 -9.35"/><path d="M0 14L162 10.4"/><path d="M0 33.76L162 30.16"/><path d="M0 53.51L162 49.92"/><path d="M0 73.27L162 69.67"/><path d="M0 93.03L162 89.43"/><path d="M0 112.79L162 109.19"/><path d="M0 132.54L162 128.95"/><path d="M0 152.3L162 148.7"/><path d="M0 172.06L162 168.46"/></g></g></g><rect x="0" y="0" width="161" height="154" fill="none" stroke="#000" stroke-width="1.1"/></g>
<text transform="translate(473.5 96) scale(1 1.09)" font-size="16.67" text-anchor="middle" stroke="#000" stroke-width="0.2">dSST/dt [K hr<tspan font-size="11.67" dy="-6.3">−1</tspan><tspan dy="6.3">]</tspan></text>
<text x="393.4" y="115.1" font-size="13.89" text-anchor="middle">112.5°E</text><text x="397.5" y="297.4" font-size="13.89" text-anchor="middle">112.5°E</text><text x="462.7" y="115.1" font-size="13.89" text-anchor="middle">113.25°E</text><text x="466.2" y="297.4" font-size="13.89" text-anchor="middle">113.25°E</text><text x="532" y="115.1" font-size="13.89" text-anchor="middle">114°E</text><text x="534.9" y="297.4" font-size="13.89" text-anchor="middle">114°E</text>
<linearGradient id="g1" x1="0" y1="0" x2="0" y2="1"><stop offset="0" stop-color="#67001f"/><stop offset="0.1" stop-color="#b2182b"/><stop offset="0.2" stop-color="#d6604d"/><stop offset="0.3" stop-color="#f4a582"/><stop offset="0.4" stop-color="#fddbc7"/><stop offset="0.5" stop-color="#f7f7f7"/><stop offset="0.6" stop-color="#d1e5f0"/><stop offset="0.7" stop-color="#92c5de"/><stop offset="0.8" stop-color="#4393c3"/><stop offset="0.9" stop-color="#2166ac"/><stop offset="1" stop-color="#053061"/></linearGradient><rect x="565.2" y="171.65" width="3.08" height="61.6" fill="url(#g1)" stroke="#000" stroke-width="1.1"/><path d="M568.28 183h4.86" stroke="#000" stroke-width="1.1"/><text x="577.98" y="188.05" font-size="13.89" text-anchor="start">0.25</text><path d="M568.28 202.5h4.86" stroke="#000" stroke-width="1.1"/><text x="577.98" y="207.55" font-size="13.89" text-anchor="start">0.00</text><path d="M568.28 221.7h4.86" stroke="#000" stroke-width="1.1"/><text x="577.98" y="226.75" font-size="13.89" text-anchor="start">−0.25</text>
<g transform="translate(635.5 125.5)"><clipPath id="c2"><rect x="0" y="0" width="162" height="154"/></clipPath><g clip-path="url(#c2)"><rect x="-1" y="-1" width="164" height="156" fill="#97b6e1"/><g transform="translate(0.2 0)"><g transform="matrix(3.695 -0.082 0.104 3.95 6.6 2.6)" shape-rendering="crispEdges"><rect x="-2" y="0" width="1" height="1" fill="#f2eeec"/><rect x="-1" y="0" width="1" height="1" fill="#f4f0ee"/><rect x="0" y="0" width="1" height="1" fill="#f2eeec"/><rect x="1" y="0" width="1" height="1" fill="#f2f0ee"/><rect x="2" y="0" width="1" height="1" fill="#f4f2f0"/><rect x="3" y="0" width="1" height="1" fill="#f2eeec"/><rect x="19" y="0" width="1" height="1" fill="#f4f0ee"/><rect x="31" y="0" width="1" height="1" fill="#f2f0ee"/><rect x="32" y="0" width="1" height="1" fill="#f0eeee"/><rect x="33" y="0" width="1" height="1" fill="#e8e8ea"/><rect x="34" y="0" width="1" height="1" fill="#e8e8ec"/><rect x="35" y="0" width="2" height="1" fill="#e8e8ea"/><rect x="37" y="0" width="1" height="1" fill="#e4e6e8"/><rect x="38" y="0" width="1" height="1" fill="#e4e4e6"/><rect x="39" y="0" width="1" height="1" fill="#eeecec"/><rect x="40" y="0" width="1" height="1" fill="#f0eeec"/><rect x="-2" y="1" width="1" height="1" fill="#f4f0ee"/><rect x="-1" y="1" width="1" height="1" fill="#f2eeec"/><rect x="0" y="1" width="1" height="1" fill="#f4f0ee"/><rect x="31" y="1" width="1" height="1" fill="#f0eeec"/><rect x="32" y="1" width="1" height="1" fill="#eeecec"/><rect x="33" y="1" width="1" height="1" fill="#eaeaec"/><rect x="34" y="1" width="1" height="1" fill="#e4e6ea"/><rect x="35" y="1" width="1" height="1" fill="#e8eaec"/><rect x="36" y="1" width="1" height="1" fill="#e4e4e8"/><rect x="37" y="1" width="1" height="1" fill="#d8dce2"/><rect x="38" y="1" width="1" height="1" fill="#dee0e6"/><rect x="39" y="1" width="1" height="1" fill="#eae8ea"/><rect x="40" y="1" width="1" height="1" fill="#f2f0ee"/><rect x="-2" y="2" width="1" height="1" fill="#f2eeec"/><rect x="-1" y="2" width="1" height="1" fill="#f4f0ee"/><rect x="0" y="2" width="1" height="1" fill="#f2eeec"/><rect x="1" y="2" width="1" height="1" fill="#f2f0ec"/><rect x="2" y="2" width="1" height="1" fill="#f0eeea"/><rect x="9" y="2" width="1" height="1" fill="#f4f2f0"/><rect x="10" y="2" width="1" height="1" fill="#f2f0ee"/><rect x="31" y="2" width="1" height="1" fill="#f2f0ee"/><rect x="32" y="2" width="1" height="1" fill="#ececec"/><rect x="33" y="2" width="1" height="1" fill="#eaeaec"/><rect x="34" y="2" width="1" height="1" fill="#eaeaee"/><rect x="35" y="2" width="1" height="1" fill="#e8e8ec"/><rect x="36" y="2" width="1" height="1" fill="#eaeaec"/><rect x="37" y="2" width="1" height="1" fill="#e0e2e6"/><rect x="38" y="2" width="1" height="1" fill="#e4e4e8"/><rect x="39" y="2" width="1" height="1" fill="#f0eeee"/><rect x="40" y="2" width="1" height="1" fill="#f2eeec"/><rect x="-2" y="3" width="1" height="1" fill="#f0ecea"/><rect x="-1" y="3" width="1" height="1" fill="#f2eeec"/><rect x="0" y="3" width="1" height="1" fill="#f4f0ec"/><rect x="1" y="3" width="1" height="1" fill="#f0eeea"/><rect x="2" y="3" width="1" height="1" fill="#f2eeec"/><rect x="3" y="3" width="1" height="1" fill="#f0ecea"/><rect x="31" y="3" width="1" height="1" fill="#f2eeee"/><rect x="32" y="3" width="1" height="1" fill="#f0eeee"/><rect x="33" y="3" width="1" height="1" fill="#eaeaea"/><rect x="34" y="3" width="1" height="1" fill="#e8eaec"/><rect x="35" y="3" width="1" height="1" fill="#eaecee"/><rect x="36" y="3" width="1" height="1" fill="#eceaec"/><rect x="37" y="3" width="1" height="1" fill="#eeecec"/><rect x="38" y="3" width="1" height="1" fill="#eceaea"/><rect x="39" y="3" width="1" height="1" fill="#f0ecec"/><rect x="40" y="3" width="1" height="1" fill="#f2f0ee"/><rect x="-2" y="4" width="1" height="1" fill="#f2eeec"/><rect x="-1" y="4" width="1" height="1" fill="#f0ece8"/><rect x="0" y="4" width="1" height="1" fill="#f0eeea"/><rect x="1" y="4" width="1" height="1" fill="#f2eeec"/><rect x="2" y="4" width="1" height="1" fill="#f0ecea"/><rect x="3" y="4" width="1" height="1" fill="#f2eeec"/><rect x="4" y="4" width="1" height="1" fill="#f0ecea"/><rect x="32" y="4" width="1" height="1" fill="#f0eeec"/><rect x="33" y="4" width="1" height="1" fill="#eeeeee"/><rect x="34" y="4" width="1" height="1" fill="#eaeaea"/><rect x="35" y="4" width="1" height="1" fill="#ececec"/><rect x="36" y="4" width="1" height="1" fill="#f0eeee"/><rect x="37" y="4" width="1" height="1" fill="#eeecec"/><rect x="38" y="4" width="1" height="1" fill="#e8e8e8"/><rect x="39" y="4" width="1" height="1" fill="#e0e0e4"/><rect x="40" y="4" width="1" height="1" fill="#e6e6e8"/><rect x="-2" y="5" width="1" height="1" fill="#f0ece8"/><rect x="-1" y="5" width="1" height="1" fill="#f2eeea"/><rect x="0" y="5" width="1" height="1" fill="#eeeae8"/><rect x="1" y="5" width="1" height="1" fill="#f0ece8"/><rect x="2" y="5" width="1" height="1" fill="#f2eeea"/><rect x="3" y="5" width="1" height="1" fill="#f0ecea"/><rect x="31" y="5" width="2" height="1" fill="#f2f0ee"/><rect x="33" y="5" width="1" height="1" fill="#eceaec"/><rect x="34" y="5" width="1" height="1" fill="#ececec"/><rect x="35" y="5" width="1" height="1" fill="#eceaea"/><rect x="36" y="5" width="1" height="1" fill="#f0eeec"/><rect x="37" y="5" width="1" height="1" fill="#eaeaea"/><rect x="38" y="5" width="1" height="1" fill="#d6dade"/><rect x="39" y="5" width="1" height="1" fill="#ccd2da"/><rect x="40" y="5" width="1" height="1" fill="#d6d8de"/><rect x="-2" y="6" width="1" height="1" fill="#f2eeea"/><rect x="-1" y="6" width="2" height="1" fill="#f0ece8"/><rect x="1" y="6" width="1" height="1" fill="#eeeae6"/><rect x="2" y="6" width="1" height="1" fill="#f0ece8"/><rect x="3" y="6" width="1" height="1" fill="#f2eeec"/><rect x="4" y="6" width="1" height="1" fill="#f0eeea"/><rect x="31" y="6" width="1" height="1" fill="#eaeaea"/><rect x="32" y="6" width="1" height="1" fill="#e4e4e8"/><rect x="33" y="6" width="1" height="1" fill="#dee2e6"/><rect x="34" y="6" width="1" height="1" fill="#d6dae2"/><rect x="35" y="6" width="1" height="1" fill="#e2e4e6"/><rect x="36" y="6" width="1" height="1" fill="#eae8e8"/><rect x="37" y="6" width="1" height="1" fill="#e2e2e6"/><rect x="38" y="6" width="1" height="1" fill="#d2d6de"/><rect x="39" y="6" width="1" height="1" fill="#d0d4da"/><rect x="40" y="6" width="1" height="1" fill="#dadee2"/><rect x="-2" y="7" width="1" height="1" fill="#f0ecea"/><rect x="-1" y="7" width="1" height="1" fill="#f2eeea"/><rect x="0" y="7" width="1" height="1" fill="#f0ece8"/><rect x="1" y="7" width="1" height="1" fill="#f0ecea"/><rect x="2" y="7" width="1" height="1" fill="#eeece8"/><rect x="31" y="7" width="1" height="1" fill="#e2e4e8"/><rect x="32" y="7" width="1" height="1" fill="#d6dce2"/><rect x="33" y="7" width="1" height="1" fill="#ccd4de"/><rect x="34" y="7" width="1" height="1" fill="#b8c6d6"/><rect x="35" y="7" width="1" height="1" fill="#cad2dc"/><rect x="36" y="7" width="1" height="1" fill="#e6e6e8"/><rect x="37" y="7" width="1" height="1" fill="#ded8be"/><rect x="-2" y="8" width="1" height="1" fill="#f0ece8"/><rect x="-1" y="8" width="1" height="1" fill="#f0ecea"/><rect x="0" y="8" width="1" height="1" fill="#f2eeea"/><rect x="1" y="8" width="1" height="1" fill="#f0ece8"/><rect x="2" y="8" width="1" height="1" fill="#f2eeea"/><rect x="3" y="8" width="1" height="1" fill="#f0ece8"/><rect x="4" y="8" width="1" height="1" fill="#f2eeec"/><rect x="32" y="8" width="1" height="1" fill="#d8dce2"/><rect x="33" y="8" width="1" height="1" fill="#ccd2dc"/><rect x="34" y="8" width="1" height="1" fill="#bcc6d6"/><rect x="35" y="8" width="1" height="1" fill="#cad4de"/><rect x="36" y="8" width="1" height="1" fill="#e4e4e8"/><rect x="37" y="8" width="1" height="1" fill="#f0eeee"/><rect x="38" y="8" width="1" height="1" fill="#eeecea"/><rect x="39" y="8" width="1" height="1" fill="#f0eeec"/><rect x="40" y="8" width="1" height="1" fill="#f4f0f0"/><rect x="-2" y="9" width="1" height="1" fill="#f2eeec"/><rect x="-1" y="9" width="1" height="1" fill="#f0ece8"/><rect x="0" y="9" width="1" height="1" fill="#f0eeea"/><rect x="1" y="9" width="1" height="1" fill="#f2eeec"/><rect x="2" y="9" width="1" height="1" fill="#f0ecea"/><rect x="3" y="9" width="1" height="1" fill="#f2eeec"/><rect x="31" y="9" width="1" height="1" fill="#e6e6ea"/><rect x="32" y="9" width="2" height="1" fill="#d2d8e0"/><rect x="34" y="9" width="1" height="1" fill="#d2d6de"/><rect x="35" y="9" width="1" height="1" fill="#dee0e4"/><rect x="36" y="9" width="1" height="1" fill="#eeecec"/><rect x="37" y="9" width="1" height="1" fill="#f2eeec"/><rect x="38" y="9" width="1" height="1" fill="#f4f0ee"/><rect x="39" y="9" width="1" height="1" fill="#f2eeec"/><rect x="40" y="9" width="1" height="1" fill="#f2f0ee"/><rect x="-2" y="10" width="1" height="1" fill="#f0eeea"/><rect x="-1" y="10" width="1" height="1" fill="#f2eeec"/><rect x="0" y="10" width="1" height="1" fill="#f0ecea"/><rect x="1" y="10" width="1" height="1" fill="#f2eeec"/><rect x="2" y="10" width="1" height="1" fill="#f4f0ec"/><rect x="3" y="10" width="1" height="1" fill="#f2eeec"/><rect x="8" y="10" width="1" height="1" fill="#f2f0ee"/><rect x="9" y="10" width="1" height="1" fill="#f4f0ee"/><rect x="10" y="10" width="1" height="1" fill="#f2eeec"/><rect x="11" y="10" width="1" height="1" fill="#f2f0ee"/><rect x="19" y="10" width="1" height="1" fill="#f4f0ee"/><rect x="20" y="10" width="1" height="1" fill="#f2eeec"/><rect x="21" y="10" width="1" height="1" fill="#f2f0ee"/><rect x="22" y="10" width="1" height="1" fill="#f4f2f0"/><rect x="31" y="10" width="1" height="1" fill="#eceaea"/><rect x="32" y="10" width="1" height="1" fill="#e4e6e8"/><rect x="33" y="10" width="1" height="1" fill="#e0e2e6"/><rect x="34" y="10" width="1" height="1" fill="#e8e8ea"/><rect x="-2" y="11" width="1" height="1" fill="#f4f0ee"/><rect x="-1" y="11" width="1" height="1" fill="#f2eeec"/><rect x="0" y="11" width="1" height="1" fill="#f2f0ec"/><rect x="1" y="11" width="1" height="1" fill="#f0eeea"/><rect x="2" y="11" width="1" height="1" fill="#f2eeec"/><rect x="7" y="11" width="1" height="1" fill="#f2f0ee"/><rect x="8" y="11" width="1" height="1" fill="#f4f2f0"/><rect x="9" y="11" width="1" height="1" fill="#f2f0ee"/><rect x="10" y="11" width="1" height="1" fill="#f4f0ee"/><rect x="11" y="11" width="1" height="1" fill="#f2eeec"/><rect x="12" y="11" width="1" height="1" fill="#f2f0ee"/><rect x="19" y="11" width="1" height="1" fill="#f2f0ee"/><rect x="20" y="11" width="1" height="1" fill="#f4f0ee"/><rect x="21" y="11" width="1" height="1" fill="#f2eeec"/><rect x="22" y="11" width="1" height="1" fill="#f2f0ee"/><rect x="31" y="11" width="1" height="1" fill="#eceaea"/><rect x="32" y="11" width="1" height="1" fill="#eeecec"/><rect x="33" y="11" width="1" height="1" fill="#f0eeee"/><rect x="34" y="11" width="1" height="1" fill="#f0eeec"/><rect x="-2" y="12" width="1" height="1" fill="#f2f0ee"/><rect x="-1" y="12" width="1" height="1" fill="#f4f0ee"/><rect x="0" y="12" width="1" height="1" fill="#f2eeec"/><rect x="1" y="12" width="1" height="1" fill="#f4f0ee"/><rect x="2" y="12" width="1" height="1" fill="#f0eeec"/><rect x="3" y="12" width="1" height="1" fill="#f2f0ee"/><rect x="7" y="12" width="1" height="1" fill="#f2eeec"/><rect x="8" y="12" width="1" height="1" fill="#f2f0ee"/><rect x="9" y="12" width="1" height="1" fill="#f4f2f0"/><rect x="10" y="12" width="1" height="1" fill="#f2f0ee"/><rect x="11" y="12" width="1" height="1" fill="#f4f0ee"/><rect x="31" y="12" width="1" height="1" fill="#e8e8ea"/><rect x="32" y="12" width="1" height="1" fill="#eae8e8"/><rect x="33" y="12" width="1" height="1" fill="#f0eeec"/><rect x="34" y="12" width="1" height="1" fill="#f4f2f0"/><rect x="40" y="12" width="1" height="1" fill="#f2f0ee"/><rect x="-2" y="13" width="1" height="1" fill="#f2eeec"/><rect x="-1" y="13" width="1" height="1" fill="#f2f0ee"/><rect x="0" y="13" width="1" height="1" fill="#f4f2f0"/><rect x="1" y="13" width="1" height="1" fill="#f2eeec"/><rect x="2" y="13" width="1" height="1" fill="#f4f0ee"/><rect x="3" y="13" width="1" height="1" fill="#f2eeec"/><rect x="4" y="13" width="1" height="1" fill="#f2f0ee"/><rect x="5" y="13" width="1" height="1" fill="#f4f2f0"/><rect x="6" y="13" width="1" height="1" fill="#f2f0ee"/><rect x="7" y="13" width="1" height="1" fill="#f4f0ee"/><rect x="11" y="13" width="1" height="1" fill="#f2f0ee"/><rect x="30" y="13" width="1" height="1" fill="#e4e6e8"/><rect x="31" y="13" width="1" height="1" fill="#e0e2e4"/><rect x="32" y="13" width="1" height="1" fill="#e8e8ea"/><rect x="33" y="13" width="1" height="1" fill="#ececea"/><rect x="34" y="13" width="1" height="1" fill="#f2f0ee"/><rect x="40" y="13" width="1" height="1" fill="#f4f2f0"/><rect x="-2" y="14" width="1" height="1" fill="#f4f0ee"/><rect x="-1" y="14" width="1" height="1" fill="#f2eeec"/><rect x="0" y="14" width="1" height="1" fill="#f2f0ee"/><rect x="1" y="14" width="1" height="1" fill="#f4f2f0"/><rect x="2" y="14" width="1" height="1" fill="#f2f0ec"/><rect x="3" y="14" width="1" height="1" fill="#f4f0ee"/><rect x="4" y="14" width="1" height="1" fill="#f2eeec"/><rect x="11" y="14" width="1" height="1" fill="#f4f2f0"/><rect x="23" y="14" width="1" height="1" fill="#f4f0ee"/><rect x="30" y="14" width="2" height="1" fill="#e4e6e8"/><rect x="32" y="14" width="1" height="1" fill="#e8e8e8"/><rect x="33" y="14" width="2" height="1" fill="#f0eeec"/><rect x="40" y="14" width="1" height="1" fill="#f2f0ee"/><rect x="-2" y="15" width="1" height="1" fill="#f2f0ee"/><rect x="-1" y="15" width="1" height="1" fill="#f4f0ee"/><rect x="0" y="15" width="1" height="1" fill="#f2eeec"/><rect x="1" y="15" width="1" height="1" fill="#f2f0ee"/><rect x="2" y="15" width="1" height="1" fill="#f4f2f0"/><rect x="3" y="15" width="1" height="1" fill="#f2f0ee"/><rect x="4" y="15" width="1" height="1" fill="#f4f0ee"/><rect x="11" y="15" width="1" height="1" fill="#f2f0ee"/><rect x="23" y="15" width="1" height="1" fill="#f2f0ee"/><rect x="30" y="15" width="1" height="1" fill="#eaeaea"/><rect x="31" y="15" width="1" height="1" fill="#eceaea"/><rect x="32" y="15" width="1" height="1" fill="#f0eeee"/><rect x="33" y="15" width="1" height="1" fill="#f0eeec"/><rect x="34" y="15" width="1" height="1" fill="#f4f0ee"/><rect x="40" y="15" width="1" height="1" fill="#f2eeec"/><rect x="-2" y="16" width="1" height="1" fill="#f4f2f0"/><rect x="-1" y="16" width="1" height="1" fill="#f2f0ee"/><rect x="4" y="16" width="1" height="1" fill="#f2f0ee"/><rect x="5" y="16" width="1" height="1" fill="#f4f0ee"/><rect x="23" y="16" width="1" height="1" fill="#f4f2f0"/><rect x="31" y="16" width="1" height="1" fill="#f0eeec"/><rect x="-2" y="17" width="1" height="1" fill="#f2f0ee"/><rect x="3" y="17" width="1" height="1" fill="#f2f0ee"/><rect x="4" y="17" width="1" height="1" fill="#f4f2f0"/><rect x="5" y="17" width="1" height="1" fill="#f2f0ee"/><rect x="31" y="17" width="1" height="1" fill="#f4f0ee"/><rect x="40" y="17" width="1" height="1" fill="#f2f0ee"/><rect x="-2" y="18" width="1" height="1" fill="#f2eeec"/><rect x="3" y="18" width="1" height="1" fill="#f2eeec"/><rect x="4" y="18" width="1" height="1" fill="#f2f0ee"/><rect x="5" y="18" width="1" height="1" fill="#f4f2f0"/><rect x="31" y="18" width="1" height="1" fill="#f2f0ee"/><rect x="40" y="18" width="1" height="1" fill="#f4f2f0"/><rect x="1" y="19" width="1" height="1" fill="#f4f2f0"/><rect x="2" y="19" width="1" height="1" fill="#f2f0ee"/><rect x="3" y="19" width="1" height="1" fill="#f4f0ee"/><rect x="4" y="19" width="1" height="1" fill="#f2eeec"/><rect x="5" y="19" width="1" height="1" fill="#f2f0ee"/><rect x="6" y="19" width="1" height="1" fill="#f4f2f0"/><rect x="25" y="19" width="1" height="1" fill="#f2f0ee"/><rect x="31" y="19" width="1" height="1" fill="#f4f2f0"/><rect x="40" y="19" width="1" height="1" fill="#f2f0ee"/><rect x="0" y="20" width="1" height="1" fill="#f2eeec"/><rect x="1" y="20" width="1" height="1" fill="#f2f0ee"/><rect x="2" y="20" width="1" height="1" fill="#f4f2f0"/><rect x="3" y="20" width="1" height="1" fill="#f2f0ee"/><rect x="4" y="20" width="1" height="1" fill="#f4f0ee"/><rect x="5" y="20" width="1" height="1" fill="#f2eeec"/><rect x="27" y="20" width="1" height="1" fill="#f4f2f0"/><rect x="28" y="20" width="1" height="1" fill="#f2f0ee"/><rect x="0" y="21" width="1" height="1" fill="#f4f0ee"/><rect x="1" y="21" width="1" height="1" fill="#f2eeec"/><rect x="2" y="21" width="1" height="1" fill="#f2f0ee"/><rect x="3" y="21" width="1" height="1" fill="#f4f2f0"/><rect x="21" y="21" width="1" height="1" fill="#f2eeec"/><rect x="22" y="21" width="1" height="1" fill="#f4f0ee"/><rect x="27" y="21" width="1" height="1" fill="#f2f0ee"/><rect x="28" y="21" width="1" height="1" fill="#f4f2f0"/><rect x="1" y="22" width="1" height="1" fill="#f4f0ee"/><rect x="2" y="22" width="1" height="1" fill="#f2eeec"/><rect x="22" y="22" width="1" height="1" fill="#f2eeec"/><rect x="28" y="22" width="1" height="1" fill="#f2f0ee"/><rect x="0" y="23" width="1" height="1" fill="#f4f2f0"/><rect x="1" y="23" width="1" height="1" fill="#f2f0ee"/><rect x="2" y="23" width="1" height="1" fill="#f4f0ee"/><rect x="13" y="23" width="1" height="1" fill="#f2eeec"/><rect x="14" y="23" width="1" height="1" fill="#f2f0ee"/><rect x="19" y="23" width="1" height="1" fill="#f2f0ee"/><rect x="28" y="23" width="1" height="1" fill="#f2eeec"/><rect x="40" y="23" width="1" height="1" fill="#f4f2f0"/><rect x="-2" y="24" width="1" height="1" fill="#f4f0ee"/><rect x="-1" y="24" width="1" height="1" fill="#f2eeec"/><rect x="0" y="24" width="1" height="1" fill="#f2f0ee"/><rect x="1" y="24" width="1" height="1" fill="#f4f2f0"/><rect x="6" y="24" width="1" height="1" fill="#f4f2f0"/><rect x="7" y="24" width="1" height="1" fill="#f2f0ee"/><rect x="8" y="24" width="1" height="1" fill="#f4f0ee"/><rect x="13" y="24" width="1" height="1" fill="#f4f0ee"/><rect x="14" y="24" width="1" height="1" fill="#f2eeec"/><rect x="15" y="24" width="1" height="1" fill="#f2f0ee"/><rect x="16" y="24" width="1" height="1" fill="#f4f2f0"/><rect x="17" y="24" width="1" height="1" fill="#f2f0ee"/><rect x="18" y="24" width="1" height="1" fill="#f4f0ee"/><rect x="19" y="24" width="1" height="1" fill="#f2eeec"/><rect x="28" y="24" width="1" height="1" fill="#f4f0ee"/><rect x="-2" y="25" width="1" height="1" fill="#f2f0ee"/><rect x="-1" y="25" width="1" height="1" fill="#f4f0ee"/><rect x="0" y="25" width="1" height="1" fill="#f2eeec"/><rect x="1" y="25" width="1" height="1" fill="#f2f0ee"/><rect x="7" y="25" width="1" height="1" fill="#f4f2f0"/><rect x="8" y="25" width="1" height="1" fill="#f2f0ee"/><rect x="9" y="25" width="1" height="1" fill="#f4f0ee"/><rect x="14" y="25" width="1" height="1" fill="#f4f0ee"/><rect x="28" y="25" width="1" height="1" fill="#f2f0ee"/><rect x="-2" y="26" width="1" height="1" fill="#f4f2f0"/><rect x="-1" y="26" width="1" height="1" fill="#f2f0ee"/><rect x="0" y="26" width="1" height="1" fill="#f4f0ee"/><rect x="4" y="26" width="1" height="1" fill="#f2f0ee"/><rect x="6" y="26" width="1" height="1" fill="#f2eeec"/><rect x="7" y="26" width="1" height="1" fill="#f2f0ee"/><rect x="8" y="26" width="1" height="1" fill="#f4f2f0"/><rect x="9" y="26" width="1" height="1" fill="#f2f0ee"/><rect x="-2" y="27" width="1" height="1" fill="#f2f0ee"/><rect x="-1" y="27" width="1" height="1" fill="#f4f2f0"/><rect x="13" y="27" width="1" height="1" fill="#f2f0ee"/><rect x="11" y="28" width="1" height="1" fill="#e8e8e8"/><rect x="12" y="28" width="1" height="1" fill="#ececea"/><rect x="13" y="28" width="1" height="1" fill="#f0eeec"/><rect x="14" y="28" width="1" height="1" fill="#f2f0ee"/><rect x="15" y="28" width="1" height="1" fill="#f4f2f0"/><rect x="6" y="29" width="1" height="1" fill="#f4f2f0"/><rect x="7" y="29" width="1" height="1" fill="#f2f0ee"/><rect x="11" y="29" width="1" height="1" fill="#dadcde"/><rect x="12" y="29" width="1" height="1" fill="#dee0e2"/><rect x="13" y="29" width="1" height="1" fill="#f0eeec"/><rect x="14" y="29" width="1" height="1" fill="#f2eeec"/><rect x="15" y="29" width="1" height="1" fill="#f2f0ee"/><rect x="6" y="30" width="1" height="1" fill="#f2f0ee"/><rect x="7" y="30" width="1" height="1" fill="#f4f2f0"/><rect x="12" y="30" width="1" height="1" fill="#eceaea"/><rect x="13" y="30" width="1" height="1" fill="#f0eeec"/><rect x="14" y="30" width="1" height="1" fill="#f4f0ee"/><rect x="7" y="31" width="1" height="1" fill="#f2f0ee"/><rect x="12" y="31" width="1" height="1" fill="#f2f0ee"/><rect x="13" y="31" width="1" height="1" fill="#f4f0ee"/><rect x="14" y="31" width="1" height="1" fill="#f0ecec"/><rect x="10" y="32" width="1" height="1" fill="#f2f0ee"/><rect x="11" y="32" width="1" height="1" fill="#f4f0ee"/><rect x="12" y="32" width="1" height="1" fill="#f0eeec"/><rect x="13" y="32" width="1" height="1" fill="#eeecec"/><rect x="14" y="32" width="1" height="1" fill="#e8e8e8"/><rect x="15" y="32" width="1" height="1" fill="#e6e6e6"/><rect x="13" y="33" width="1" height="1" fill="#eae8e8"/><rect x="14" y="33" width="2" height="1" fill="#e0e2e4"/><rect x="16" y="33" width="1" height="1" fill="#eae8e8"/><rect x="13" y="34" width="1" height="1" fill="#f0eeec"/><rect x="14" y="34" width="1" height="1" fill="#e6e6e6"/><rect x="15" y="34" width="1" height="1" fill="#e8e6e8"/><rect x="16" y="34" width="1" height="1" fill="#f0eeec"/><rect x="13" y="35" width="1" height="1" fill="#f2eeec"/><rect x="14" y="35" width="1" height="1" fill="#f2eeee"/><rect x="15" y="35" width="1" height="1" fill="#eeecea"/><rect x="16" y="35" width="1" height="1" fill="#f2f0ee"/><rect x="14" y="36" width="1" height="1" fill="#f2f0ee"/></g><g transform="translate(0.4 0)"><path d="M155 29 L153.5 29 L148.5 30 L143.5 32.5 L140 36.5 L136.5 42.5 L133.5 48.5 L130.5 54.5 L128.5 60.5 L128 64.5 L125.5 70.5 L123 77.5 L120.5 84.5 L117.5 90.5 L115.8 97.5 L114 102.5 L110.25 104.75 L108 107 L108.75 110 L110.7 114.5 L111 118.25 L109.8 122 L113.25 123.5 L117.75 126.5 L120 129.5 L121.5 134 L123.3 138.5 L124.2 143 L124.2 155 L164 155 L164 94 L160 97.5 L159 100 L156.5 101.5 L153.5 101 L151.5 99 L151 96.5 L151.5 93.5 L152.5 89.5 L154 86 L156 83 L156 80.5 L154.5 79.5 L153 81 L151 83 L150 82 L151 80.5 L151.5 77.5 L150 73.5 L148.8 68.5 L148.2 65 L148.6 61.5 L150 57.5 L150.5 52.5 L151 47.5 L152 42.5 L153.5 37.5 L155 32.5 L155.5 30 L155 29Z" fill="#efefdb"/><path d="M164 94 L160 97.5 L159 100 L156.5 101.5 L153.5 101 L151.5 99 L151 96.5 L151.5 93.5 L152.5 89.5 L154 86 L156 83 L156 80.5 L154.5 79.5 L153 81 L151 83 L150 82 L151 80.5 L151.5 77.5 L150 73.5 L148.8 68.5 L148.2 65 L148.6 61.5 L150 57.5 L150.5 52.5 L151 47.5 L152 42.5 L153.5 37.5 L155 32.5 L155.5 30 L155 29 L153.5 29 L148.5 30 L143.5 32.5 L140 36.5 L136.5 42.5 L133.5 48.5 L130.5 54.5 L128.5 60.5 L128 64.5 L125.5 70.5 L123 77.5 L120.5 84.5 L117.5 90.5 L115.8 97.5 L114 102.5 L110.25 104.75 L108 107 L108.75 110 L110.7 114.5 L111 118.25 L109.8 122 L113.25 123.5 L117.75 126.5 L120 129.5 L121.5 134 L123.3 138.5 L124.2 143 L124.2 155" fill="none" stroke="#7f7f7f" stroke-width="1.4" stroke-linejoin="round"/></g><g stroke="#b0b0b0" stroke-width="1.1" fill="none"><path d="M0.5 0L4.55 153.7"/><path d="M23.62 0L27.55 153.7"/><path d="M46.74 0L50.55 153.7"/><path d="M69.86 0L73.55 153.7"/><path d="M92.98 0L96.55 153.7"/><path d="M116.1 0L119.55 153.7"/><path d="M139.22 0L142.55 153.7"/><path d="M0 -5.76L162 -9.35"/><path d="M0 14L162 10.4"/><path d="M0 33.76L162 30.16"/><path d="M0 53.51L162 49.92"/><path d="M0 73.27L162 69.67"/><path d="M0 93.03L162 89.43"/><path d="M0 112.79L162 109.19"/><path d="M0 132.54L162 128.95"/><path d="M0 152.3L162 148.7"/><path d="M0 172.06L162 168.46"/></g></g></g><rect x="0" y="0" width="162" height="154" fill="none" stroke="#000" stroke-width="1.1"/></g>
<text transform="translate(716.7 96) scale(1 1.09)" font-size="16.67" text-anchor="middle" stroke="#000" stroke-width="0.2">dSST/dx [K km<tspan font-size="11.67" dy="-6.3">−1</tspan><tspan dy="6.3">]</tspan></text>
<text x="636" y="115.1" font-size="13.89" text-anchor="middle">112.5°E</text><text x="640.1" y="297.4" font-size="13.89" text-anchor="middle">112.5°E</text><text x="705.3" y="115.1" font-size="13.89" text-anchor="middle">113.25°E</text><text x="708.8" y="297.4" font-size="13.89" text-anchor="middle">113.25°E</text><text x="774.6" y="115.1" font-size="13.89" text-anchor="middle">114°E</text><text x="777.5" y="297.4" font-size="13.89" text-anchor="middle">114°E</text>
<linearGradient id="g2" x1="0" y1="0" x2="0" y2="1"><stop offset="0" stop-color="#1c1403"/><stop offset="0.12" stop-color="#4e3c16"/><stop offset="0.25" stop-color="#806a3c"/><stop offset="0.37" stop-color="#b8a88a"/><stop offset="0.5" stop-color="#f5f2f0"/><stop offset="0.62" stop-color="#a7b9cf"/><stop offset="0.75" stop-color="#6483ad"/><stop offset="0.87" stop-color="#2f5585"/><stop offset="1" stop-color="#07223f"/></linearGradient><rect x="807.8" y="171.65" width="3.08" height="61.6" fill="url(#g2)" stroke="#000" stroke-width="1.1"/><path d="M810.88 171.65h4.86" stroke="#000" stroke-width="1.1"/><text x="820.58" y="176.7" font-size="13.89" text-anchor="start">0.2</text><path d="M810.88 202.45h4.86" stroke="#000" stroke-width="1.1"/><text x="820.58" y="207.5" font-size="13.89" text-anchor="start">0.0</text><path d="M810.88 233.25h4.86" stroke="#000" stroke-width="1.1"/><text x="820.58" y="238.3" font-size="13.89" text-anchor="start">−0.2</text>
<g transform="translate(878.5 125.5)"><clipPath id="c3"><rect x="0" y="0" width="162" height="154"/></clipPath><g clip-path="url(#c3)"><rect x="-1" y="-1" width="164" height="156" fill="#97b6e1"/><g transform="translate(-0.2 0)"><g transform="matrix(3.695 -0.082 0.104 3.95 6.6 2.6)" shape-rendering="crispEdges"><rect x="-2" y="0" width="1" height="1" fill="#f2eeec"/><rect x="-1" y="0" width="1" height="1" fill="#f4f0ee"/><rect x="0" y="0" width="1" height="1" fill="#f0eeea"/><rect x="1" y="0" width="1" height="1" fill="#f2eeec"/><rect x="4" y="0" width="1" height="1" fill="#f4f0ee"/><rect x="8" y="0" width="1" height="1" fill="#f2f0ee"/><rect x="10" y="0" width="1" height="1" fill="#f2eeec"/><rect x="18" y="0" width="1" height="1" fill="#f2f0ee"/><rect x="19" y="0" width="1" height="1" fill="#f4f0ee"/><rect x="30" y="0" width="1" height="1" fill="#f2eeec"/><rect x="31" y="0" width="1" height="1" fill="#f2f0ee"/><rect x="32" y="0" width="1" height="1" fill="#f4f0f0"/><rect x="33" y="0" width="1" height="1" fill="#f0eeee"/><rect x="34" y="0" width="1" height="1" fill="#f2f0ee"/><rect x="35" y="0" width="1" height="1" fill="#f0eeec"/><rect x="36" y="0" width="1" height="1" fill="#f2f0ee"/><rect x="37" y="0" width="1" height="1" fill="#f4f2f0"/><rect x="38" y="0" width="1" height="1" fill="#f2f0ee"/><rect x="39" y="0" width="1" height="1" fill="#f4f0ee"/><rect x="40" y="0" width="1" height="1" fill="#f2eeec"/><rect x="-2" y="1" width="1" height="1" fill="#f4f0ee"/><rect x="-1" y="1" width="1" height="1" fill="#f0eeea"/><rect x="0" y="1" width="1" height="1" fill="#f2eeec"/><rect x="1" y="1" width="1" height="1" fill="#eeece8"/><rect x="8" y="1" width="1" height="1" fill="#f4f2f0"/><rect x="10" y="1" width="1" height="1" fill="#f4f0ee"/><rect x="18" y="1" width="1" height="1" fill="#f4f2f0"/><rect x="30" y="1" width="1" height="1" fill="#f2f0ee"/><rect x="31" y="1" width="1" height="1" fill="#f0eeec"/><rect x="32" y="1" width="1" height="1" fill="#f0eeee"/><rect x="33" y="1" width="1" height="1" fill="#f0f0f0"/><rect x="34" y="1" width="1" height="1" fill="#f0eeee"/><rect x="35" y="1" width="1" height="1" fill="#f2f0ee"/><rect x="36" y="1" width="1" height="1" fill="#f0eeec"/><rect x="37" y="1" width="1" height="1" fill="#f2f0ee"/><rect x="38" y="1" width="1" height="1" fill="#f4f2f0"/><rect x="39" y="1" width="1" height="1" fill="#f2f0ee"/><rect x="40" y="1" width="1" height="1" fill="#f4f0ee"/><rect x="-2" y="2" width="2" height="1" fill="#f2eeea"/><rect x="0" y="2" width="1" height="1" fill="#eeeae6"/><rect x="1" y="2" width="1" height="1" fill="#f0ece8"/><rect x="8" y="2" width="1" height="1" fill="#f2f0ee"/><rect x="15" y="2" width="1" height="1" fill="#f2f0ee"/><rect x="18" y="2" width="1" height="1" fill="#f2f0ee"/><rect x="30" y="2" width="2" height="1" fill="#f0eeee"/><rect x="32" y="2" width="1" height="1" fill="#ececec"/><rect x="33" y="2" width="1" height="1" fill="#ececee"/><rect x="34" y="2" width="1" height="1" fill="#f0eef0"/><rect x="35" y="2" width="1" height="1" fill="#f0eeee"/><rect x="36" y="2" width="1" height="1" fill="#f2f0ee"/><rect x="37" y="2" width="1" height="1" fill="#f2eeec"/><rect x="38" y="2" width="1" height="1" fill="#f2f0ee"/><rect x="39" y="2" width="1" height="1" fill="#f4f2f0"/><rect x="40" y="2" width="1" height="1" fill="#f2eeec"/><rect x="-2" y="3" width="1" height="1" fill="#eeece8"/><rect x="-1" y="3" width="1" height="1" fill="#eeeae6"/><rect x="0" y="3" width="1" height="1" fill="#f0eae6"/><rect x="1" y="3" width="1" height="1" fill="#ece8e2"/><rect x="2" y="3" width="1" height="1" fill="#eee8e4"/><rect x="3" y="3" width="1" height="1" fill="#ece8e4"/><rect x="9" y="3" width="1" height="1" fill="#f2f0ee"/><rect x="31" y="3" width="2" height="1" fill="#eeeeee"/><rect x="33" y="3" width="1" height="1" fill="#eaeaec"/><rect x="34" y="3" width="1" height="1" fill="#eeeeee"/><rect x="35" y="3" width="1" height="1" fill="#f2f0f0"/><rect x="36" y="3" width="1" height="1" fill="#f2eeee"/><rect x="37" y="3" width="1" height="1" fill="#f4f0ee"/><rect x="38" y="3" width="1" height="1" fill="#f0eeec"/><rect x="39" y="3" width="1" height="1" fill="#eeecec"/><rect x="40" y="3" width="1" height="1" fill="#f0eeee"/><rect x="-2" y="4" width="1" height="1" fill="#f0eeea"/><rect x="-1" y="4" width="1" height="1" fill="#ece8e4"/><rect x="0" y="4" width="2" height="1" fill="#ece8e2"/><rect x="2" y="4" width="1" height="1" fill="#eae6e0"/><rect x="3" y="4" width="2" height="1" fill="#eee8e4"/><rect x="31" y="4" width="1" height="1" fill="#f2f0f0"/><rect x="32" y="4" width="1" height="1" fill="#eeecee"/><rect x="33" y="4" width="1" height="1" fill="#eeeeee"/><rect x="34" y="4" width="1" height="1" fill="#eceaec"/><rect x="35" y="4" width="1" height="1" fill="#eeecec"/><rect x="36" y="4" width="1" height="1" fill="#f0eeee"/><rect x="37" y="4" width="1" height="1" fill="#f0eeec"/><rect x="38" y="4" width="1" height="1" fill="#eeeeee"/><rect x="39" y="4" width="1" height="1" fill="#e4e6e8"/><rect x="40" y="4" width="1" height="1" fill="#e4e6ea"/><rect x="-2" y="5" width="1" height="1" fill="#f0ece8"/><rect x="-1" y="5" width="1" height="1" fill="#eeeae6"/><rect x="0" y="5" width="1" height="1" fill="#eae6e0"/><rect x="1" y="5" width="1" height="1" fill="#ece6e0"/><rect x="2" y="5" width="1" height="1" fill="#eee8e2"/><rect x="3" y="5" width="1" height="1" fill="#ece8e2"/><rect x="4" y="5" width="1" height="1" fill="#f0ece8"/><rect x="31" y="5" width="1" height="1" fill="#f2f0ee"/><rect x="32" y="5" width="1" height="1" fill="#f0eeee"/><rect x="33" y="5" width="1" height="1" fill="#e2e4e6"/><rect x="34" y="5" width="1" height="1" fill="#d8dce2"/><rect x="35" y="5" width="1" height="1" fill="#d2d6dc"/><rect x="36" y="5" width="1" height="1" fill="#d8dce0"/><rect x="37" y="5" width="1" height="1" fill="#e2e4e6"/><rect x="38" y="5" width="1" height="1" fill="#e8e8ea"/><rect x="39" y="5" width="1" height="1" fill="#e4e6ea"/><rect x="40" y="5" width="1" height="1" fill="#e0e4e8"/><rect x="-2" y="6" width="1" height="1" fill="#f2eeec"/><rect x="-1" y="6" width="2" height="1" fill="#eeeae6"/><rect x="1" y="6" width="1" height="1" fill="#ece6e2"/><rect x="2" y="6" width="1" height="1" fill="#ece8e4"/><rect x="3" y="6" width="1" height="1" fill="#f0ece6"/><rect x="30" y="6" width="1" height="1" fill="#f4f0ee"/><rect x="31" y="6" width="1" height="1" fill="#f0eeec"/><rect x="32" y="6" width="1" height="1" fill="#e8e8e8"/><rect x="33" y="6" width="1" height="1" fill="#c8d0da"/><rect x="34" y="6" width="1" height="1" fill="#b2becc"/><rect x="35" y="6" width="1" height="1" fill="#b2c0ce"/><rect x="36" y="6" width="1" height="1" fill="#bec8d2"/><rect x="37" y="6" width="1" height="1" fill="#c6ced8"/><rect x="38" y="6" width="1" height="1" fill="#e6e6e8"/><rect x="40" y="6" width="1" height="1" fill="#ececec"/><rect x="-2" y="7" width="1" height="1" fill="#f2eeec"/><rect x="-1" y="7" width="1" height="1" fill="#f2eeea"/><rect x="0" y="7" width="1" height="1" fill="#eeeae6"/><rect x="1" y="7" width="1" height="1" fill="#f0ece8"/><rect x="2" y="7" width="1" height="1" fill="#eeeae6"/><rect x="3" y="7" width="1" height="1" fill="#f0ece8"/><rect x="31" y="7" width="1" height="1" fill="#f4f0ee"/><rect x="32" y="7" width="1" height="1" fill="#eae8e8"/><rect x="33" y="7" width="1" height="1" fill="#d0d6dc"/><rect x="34" y="7" width="1" height="1" fill="#bcc8d4"/><rect x="35" y="7" width="1" height="1" fill="#b8c4d0"/><rect x="36" y="7" width="1" height="1" fill="#c4ccd8"/><rect x="37" y="7" width="1" height="1" fill="#ccd2da"/><rect x="38" y="7" width="1" height="1" fill="#e8e8e8"/><rect x="40" y="7" width="1" height="1" fill="#f2eeec"/><rect x="-2" y="8" width="1" height="1" fill="#f0eeea"/><rect x="-1" y="8" width="1" height="1" fill="#f2eeec"/><rect x="0" y="8" width="1" height="1" fill="#f2f0ec"/><rect x="1" y="8" width="1" height="1" fill="#f0ecea"/><rect x="2" y="8" width="1" height="1" fill="#f2eeea"/><rect x="3" y="8" width="1" height="1" fill="#f0ecea"/><rect x="31" y="8" width="2" height="1" fill="#f2f0ee"/><rect x="33" y="8" width="1" height="1" fill="#eae8e8"/><rect x="34" y="8" width="3" height="1" fill="#e4e4e6"/><rect x="37" y="8" width="1" height="1" fill="#eaeaea"/><rect x="38" y="8" width="1" height="1" fill="#eeecec"/><rect x="40" y="8" width="1" height="1" fill="#f4f2f0"/><rect x="-2" y="9" width="1" height="1" fill="#f4f0ee"/><rect x="-1" y="9" width="1" height="1" fill="#f0eeec"/><rect x="0" y="9" width="1" height="1" fill="#f2eeec"/><rect x="1" y="9" width="1" height="1" fill="#f4f0ee"/><rect x="2" y="9" width="1" height="1" fill="#f2eeec"/><rect x="3" y="9" width="1" height="1" fill="#f2f0ee"/><rect x="4" y="9" width="1" height="1" fill="#f0eeec"/><rect x="10" y="9" width="1" height="1" fill="#f2f0ee"/><rect x="19" y="9" width="1" height="1" fill="#f2eeec"/><rect x="20" y="9" width="1" height="1" fill="#f2f0ee"/><rect x="22" y="9" width="1" height="1" fill="#f2f0ee"/><rect x="31" y="9" width="1" height="1" fill="#f4f0ee"/><rect x="32" y="9" width="1" height="1" fill="#f2eeec"/><rect x="33" y="9" width="1" height="1" fill="#f2f0ee"/><rect x="34" y="9" width="1" height="1" fill="#f0eeec"/><rect x="35" y="9" width="1" height="1" fill="#f2f0ee"/><rect x="40" y="9" width="1" height="1" fill="#f2f0ee"/><rect x="-2" y="10" width="1" height="1" fill="#f2eeec"/><rect x="-1" y="10" width="1" height="1" fill="#f4f0ee"/><rect x="0" y="10" width="1" height="1" fill="#f2eeec"/><rect x="1" y="10" width="1" height="1" fill="#f2f0ee"/><rect x="2" y="10" width="1" height="1" fill="#f4f2ee"/><rect x="3" y="10" width="1" height="1" fill="#f2eeec"/><rect x="10" y="10" width="1" height="1" fill="#f2eeec"/><rect x="19" y="10" width="1" height="1" fill="#f4f0ee"/><rect x="20" y="10" width="1" height="1" fill="#f2eeec"/><rect x="22" y="10" width="1" height="1" fill="#f4f2f0"/><rect x="23" y="10" width="1" height="1" fill="#f2f0ee"/><rect x="30" y="10" width="1" height="1" fill="#eceaea"/><rect x="31" y="10" width="1" height="1" fill="#eae8ea"/><rect x="32" y="10" width="1" height="1" fill="#ececec"/><rect x="33" y="10" width="1" height="1" fill="#f0eeec"/><rect x="34" y="10" width="1" height="1" fill="#f4f0ee"/><rect x="35" y="10" width="1" height="1" fill="#f2eeec"/><rect x="40" y="10" width="1" height="1" fill="#f2eeec"/><rect x="-2" y="11" width="1" height="1" fill="#f4f2f0"/><rect x="-1" y="11" width="1" height="1" fill="#f2f0ee"/><rect x="0" y="11" width="1" height="1" fill="#f4f0ee"/><rect x="1" y="11" width="1" height="1" fill="#f2eeec"/><rect x="2" y="11" width="1" height="1" fill="#f2f0ee"/><rect x="3" y="11" width="1" height="1" fill="#f4f2f0"/><rect x="7" y="11" width="1" height="1" fill="#f2f0ee"/><rect x="8" y="11" width="1" height="1" fill="#f4f2f0"/><rect x="9" y="11" width="1" height="1" fill="#f2f0ee"/><rect x="10" y="11" width="1" height="1" fill="#f4f0ee"/><rect x="11" y="11" width="1" height="1" fill="#f2eeec"/><rect x="12" y="11" width="1" height="1" fill="#f2f0ee"/><rect x="18" y="11" width="1" height="1" fill="#f4f2f0"/><rect x="19" y="11" width="1" height="1" fill="#f2f0ee"/><rect x="21" y="11" width="1" height="1" fill="#f2eeec"/><rect x="22" y="11" width="1" height="1" fill="#f2f0ee"/><rect x="30" y="11" width="1" height="1" fill="#e6e6e8"/><rect x="31" y="11" width="1" height="1" fill="#d8dae0"/><rect x="32" y="11" width="1" height="1" fill="#dce0e4"/><rect x="33" y="11" width="1" height="1" fill="#ececec"/><rect x="34" y="11" width="1" height="1" fill="#f0eeec"/><rect x="35" y="11" width="1" height="1" fill="#f4f0ee"/><rect x="40" y="11" width="1" height="1" fill="#f4f0ee"/><rect x="-2" y="12" width="1" height="1" fill="#f2f0ee"/><rect x="-1" y="12" width="1" height="1" fill="#f4f2f0"/><rect x="0" y="12" width="1" height="1" fill="#f2f0ee"/><rect x="1" y="12" width="1" height="1" fill="#f4f0ee"/><rect x="2" y="12" width="1" height="1" fill="#f2eeec"/><rect x="3" y="12" width="1" height="1" fill="#f2f0ee"/><rect x="6" y="12" width="1" height="1" fill="#f4f0ee"/><rect x="7" y="12" width="1" height="1" fill="#f2eeec"/><rect x="8" y="12" width="1" height="1" fill="#f2f0ee"/><rect x="10" y="12" width="1" height="1" fill="#f2f0ee"/><rect x="11" y="12" width="1" height="1" fill="#f4f0ee"/><rect x="12" y="12" width="1" height="1" fill="#f2eeec"/><rect x="18" y="12" width="1" height="1" fill="#f2f0ee"/><rect x="19" y="12" width="1" height="1" fill="#f4f2f0"/><rect x="22" y="12" width="1" height="1" fill="#f2eeec"/><rect x="30" y="12" width="1" height="1" fill="#dcdee2"/><rect x="31" y="12" width="1" height="1" fill="#d4d8de"/><rect x="32" y="12" width="1" height="1" fill="#d6d8de"/><rect x="33" y="12" width="1" height="1" fill="#e8e8e8"/><rect x="34" y="12" width="2" height="1" fill="#f2f0ee"/><rect x="40" y="12" width="1" height="1" fill="#f2f0ee"/><rect x="-2" y="13" width="1" height="1" fill="#f2eeec"/><rect x="-1" y="13" width="1" height="1" fill="#f2f0ee"/><rect x="0" y="13" width="1" height="1" fill="#f4f2f0"/><rect x="1" y="13" width="1" height="1" fill="#f2f0ee"/><rect x="2" y="13" width="1" height="1" fill="#f4f0ee"/><rect x="3" y="13" width="1" height="1" fill="#f2eeec"/><rect x="4" y="13" width="1" height="1" fill="#f2f0ee"/><rect x="7" y="13" width="1" height="1" fill="#f4f0ee"/><rect x="10" y="13" width="1" height="1" fill="#f4f2f0"/><rect x="11" y="13" width="1" height="1" fill="#f2f0ee"/><rect x="12" y="13" width="1" height="1" fill="#f4f0ee"/><rect x="22" y="13" width="1" height="1" fill="#f4f0ee"/><rect x="30" y="13" width="1" height="1" fill="#dadce2"/><rect x="31" y="13" width="1" height="1" fill="#ccd2da"/><rect x="32" y="13" width="1" height="1" fill="#d8dce0"/><rect x="33" y="13" width="1" height="1" fill="#e8e8e8"/><rect x="34" y="13" width="1" height="1" fill="#f2f0ee"/><rect x="35" y="13" width="1" height="1" fill="#f4f2f0"/><rect x="39" y="13" width="1" height="1" fill="#f2f0ee"/><rect x="40" y="13" width="1" height="1" fill="#f4f2f0"/><rect x="-2" y="14" width="1" height="1" fill="#f4f0ee"/><rect x="-1" y="14" width="1" height="1" fill="#f2eeec"/><rect x="0" y="14" width="1" height="1" fill="#f2f0ee"/><rect x="1" y="14" width="1" height="1" fill="#f4f2f0"/><rect x="2" y="14" width="1" height="1" fill="#f2f0ee"/><rect x="3" y="14" width="1" height="1" fill="#f4f0ee"/><rect x="4" y="14" width="1" height="1" fill="#f2eeec"/><rect x="5" y="14" width="1" height="1" fill="#f2f0ee"/><rect x="10" y="14" width="1" height="1" fill="#f2f0ee"/><rect x="11" y="14" width="1" height="1" fill="#f4f2f0"/><rect x="12" y="14" width="1" height="1" fill="#f2f0ee"/><rect x="22" y="14" width="1" height="1" fill="#f2f0ee"/><rect x="23" y="14" width="1" height="1" fill="#f4f0ee"/><rect x="29" y="14" width="1" height="1" fill="#eceaea"/><rect x="30" y="14" width="1" height="1" fill="#e2e4e6"/><rect x="31" y="14" width="1" height="1" fill="#dcdee2"/><rect x="32" y="14" width="1" height="1" fill="#e2e2e4"/><rect x="33" y="14" width="2" height="1" fill="#f0eeec"/><rect x="35" y="14" width="1" height="1" fill="#f2f0ee"/><rect x="39" y="14" width="1" height="1" fill="#f2eeec"/><rect x="40" y="14" width="1" height="1" fill="#f2f0ee"/><rect x="-2" y="15" width="1" height="1" fill="#f2f0ee"/><rect x="-1" y="15" width="1" height="1" fill="#f4f0ee"/><rect x="0" y="15" width="1" height="1" fill="#f2eeec"/><rect x="3" y="15" width="1" height="1" fill="#f2f0ee"/><rect x="4" y="15" width="1" height="1" fill="#f4f0ee"/><rect x="5" y="15" width="1" height="1" fill="#f2eeec"/><rect x="11" y="15" width="1" height="1" fill="#f2f0ee"/><rect x="12" y="15" width="1" height="1" fill="#f4f2f0"/><rect x="22" y="15" width="1" height="1" fill="#f4f2f0"/><rect x="23" y="15" width="1" height="1" fill="#f2f0ee"/><rect x="24" y="15" width="1" height="1" fill="#f4f0ee"/><rect x="30" y="15" width="2" height="1" fill="#eeecea"/><rect x="32" y="15" width="1" height="1" fill="#f0eeee"/><rect x="39" y="15" width="1" height="1" fill="#f4f0ee"/><rect x="-2" y="16" width="1" height="1" fill="#f4f2f0"/><rect x="-1" y="16" width="1" height="1" fill="#f2f0ee"/><rect x="3" y="16" width="1" height="1" fill="#f4f2f0"/><rect x="4" y="16" width="1" height="1" fill="#f2f0ee"/><rect x="5" y="16" width="1" height="1" fill="#f4f0ee"/><rect x="11" y="16" width="1" height="1" fill="#f2eeec"/><rect x="12" y="16" width="1" height="1" fill="#f2f0ee"/><rect x="22" y="16" width="1" height="1" fill="#f4f0ee"/><rect x="23" y="16" width="1" height="1" fill="#f4f2f0"/><rect x="30" y="16" width="1" height="1" fill="#f4f0ee"/><rect x="31" y="16" width="1" height="1" fill="#f0eeec"/><rect x="32" y="16" width="1" height="1" fill="#f2f0ee"/><rect x="39" y="16" width="1" height="1" fill="#f2f0ee"/><rect x="-2" y="17" width="1" height="1" fill="#f2f0ee"/><rect x="-1" y="17" width="1" height="1" fill="#f4f2f0"/><rect x="3" y="17" width="1" height="1" fill="#f2f0ee"/><rect x="4" y="17" width="1" height="1" fill="#f4f2f0"/><rect x="5" y="17" width="1" height="1" fill="#f2f0ee"/><rect x="6" y="17" width="1" height="1" fill="#f4f0ee"/><rect x="23" y="17" width="1" height="1" fill="#f2f0ee"/><rect x="30" y="17" width="1" height="1" fill="#f2f0ee"/><rect x="31" y="17" width="1" height="1" fill="#f4f0ee"/><rect x="32" y="17" width="1" height="1" fill="#f2eeec"/><rect x="39" y="17" width="1" height="1" fill="#f4f2f0"/><rect x="2" y="18" width="1" height="1" fill="#f4f0ee"/><rect x="3" y="18" width="1" height="1" fill="#f2eeec"/><rect x="4" y="18" width="1" height="1" fill="#f2f0ee"/><rect x="5" y="18" width="1" height="1" fill="#f4f2f0"/><rect x="6" y="18" width="1" height="1" fill="#f2f0ee"/><rect x="30" y="18" width="1" height="1" fill="#f4f2f0"/><rect x="31" y="18" width="1" height="1" fill="#f2f0ee"/><rect x="32" y="18" width="1" height="1" fill="#f4f0ee"/><rect x="39" y="18" width="1" height="1" fill="#f4f0ee"/><rect x="40" y="18" width="1" height="1" fill="#f4f2f0"/><rect x="2" y="19" width="1" height="1" fill="#f2f0ee"/><rect x="3" y="19" width="1" height="1" fill="#f4f0ee"/><rect x="4" y="19" width="1" height="1" fill="#f2eeec"/><rect x="5" y="19" width="1" height="1" fill="#f2f0ee"/><rect x="6" y="19" width="1" height="1" fill="#f4f2f0"/><rect x="21" y="19" width="1" height="1" fill="#f4f2f0"/><rect x="0" y="20" width="1" height="1" fill="#f2eeec"/><rect x="1" y="20" width="1" height="1" fill="#f2f0ee"/><rect x="2" y="20" width="1" height="1" fill="#f4f2f0"/><rect x="3" y="20" width="1" height="1" fill="#f2f0ee"/><rect x="4" y="20" width="1" height="1" fill="#f4f0ee"/><rect x="21" y="20" width="1" height="1" fill="#f4f0ee"/><rect x="26" y="20" width="1" height="1" fill="#f2f0ee"/><rect x="0" y="21" width="1" height="1" fill="#f4f0ee"/><rect x="1" y="21" width="1" height="1" fill="#f2eeec"/><rect x="2" y="21" width="1" height="1" fill="#f2f0ee"/><rect x="3" y="21" width="1" height="1" fill="#f4f2f0"/><rect x="21" y="21" width="1" height="1" fill="#f2eeec"/><rect x="27" y="21" width="1" height="1" fill="#f2eeec"/><rect x="28" y="21" width="1" height="1" fill="#f4f0f0"/><rect x="29" y="21" width="1" height="1" fill="#f2f0ee"/><rect x="0" y="22" width="1" height="1" fill="#f2f0ee"/><rect x="1" y="22" width="1" height="1" fill="#f4f0ee"/><rect x="2" y="22" width="1" height="1" fill="#f2eeec"/><rect x="3" y="22" width="1" height="1" fill="#f2f0ee"/><rect x="27" y="22" width="1" height="1" fill="#e0e0e2"/><rect x="28" y="22" width="1" height="1" fill="#eaeaea"/><rect x="29" y="22" width="1" height="1" fill="#f4f0f0"/><rect x="0" y="23" width="1" height="1" fill="#f4f2f0"/><rect x="1" y="23" width="1" height="1" fill="#f2f0ee"/><rect x="2" y="23" width="1" height="1" fill="#f4f0ee"/><rect x="14" y="23" width="1" height="1" fill="#f2f0ee"/><rect x="27" y="23" width="1" height="1" fill="#d8dae0"/><rect x="28" y="23" width="1" height="1" fill="#e4e4e6"/><rect x="29" y="23" width="1" height="1" fill="#f2eeee"/><rect x="40" y="23" width="1" height="1" fill="#f4f2f0"/><rect x="-1" y="24" width="1" height="1" fill="#f2eeec"/><rect x="0" y="24" width="1" height="1" fill="#f4f0ee"/><rect x="1" y="24" width="1" height="1" fill="#f4f2f0"/><rect x="2" y="24" width="1" height="1" fill="#f2f0ee"/><rect x="13" y="24" width="1" height="1" fill="#f4f0ee"/><rect x="14" y="24" width="1" height="1" fill="#f2eeec"/><rect x="15" y="24" width="1" height="1" fill="#f2f0ee"/><rect x="18" y="24" width="1" height="1" fill="#f4f0ee"/><rect x="27" y="24" width="1" height="1" fill="#eae8e8"/><rect x="28" y="24" width="1" height="1" fill="#f0eeec"/><rect x="29" y="24" width="1" height="1" fill="#f2eeec"/><rect x="-2" y="25" width="1" height="1" fill="#f2f0ee"/><rect x="-1" y="25" width="1" height="1" fill="#f4f0ee"/><rect x="0" y="25" width="1" height="1" fill="#f2eeec"/><rect x="1" y="25" width="1" height="1" fill="#f4f0ee"/><rect x="6" y="25" width="1" height="1" fill="#f2f0ee"/><rect x="7" y="25" width="1" height="1" fill="#f4f2f0"/><rect x="8" y="25" width="1" height="1" fill="#f2f0ee"/><rect x="9" y="25" width="1" height="1" fill="#f4f0ee"/><rect x="13" y="25" width="1" height="1" fill="#f2f0ee"/><rect x="14" y="25" width="1" height="1" fill="#f4f0ee"/><rect x="17" y="25" width="1" height="1" fill="#f4f2f0"/><rect x="-2" y="26" width="1" height="1" fill="#f4f2f0"/><rect x="-1" y="26" width="1" height="1" fill="#f2f0ee"/><rect x="0" y="26" width="1" height="1" fill="#f4f0ee"/><rect x="8" y="26" width="1" height="1" fill="#f4f2f0"/><rect x="9" y="26" width="1" height="1" fill="#f2f0ee"/><rect x="13" y="26" width="1" height="1" fill="#f0eeee"/><rect x="14" y="26" width="1" height="1" fill="#f0eeec"/><rect x="17" y="26" width="1" height="1" fill="#f2f0ee"/><rect x="13" y="27" width="1" height="1" fill="#d6dade"/><rect x="14" y="27" width="1" height="1" fill="#e4e4e6"/><rect x="12" y="28" width="1" height="1" fill="#d4d8de"/><rect x="13" y="28" width="1" height="1" fill="#c0c8d2"/><rect x="14" y="28" width="1" height="1" fill="#d0d6dc"/><rect x="16" y="28" width="1" height="1" fill="#f2eeec"/><rect x="5" y="29" width="1" height="1" fill="#f2f0ee"/><rect x="6" y="29" width="1" height="1" fill="#f4f2f0"/><rect x="11" y="29" width="1" height="1" fill="#dcdee2"/><rect x="12" y="29" width="1" height="1" fill="#d6dade"/><rect x="13" y="29" width="1" height="1" fill="#d4dade"/><rect x="14" y="29" width="1" height="1" fill="#dadce0"/><rect x="15" y="29" width="1" height="1" fill="#eeecec"/><rect x="6" y="30" width="1" height="1" fill="#f2f0ee"/><rect x="7" y="30" width="1" height="1" fill="#f4f2f0"/><rect x="8" y="30" width="1" height="1" fill="#f2f0ee"/><rect x="11" y="30" width="1" height="1" fill="#dadce0"/><rect x="12" y="30" width="1" height="1" fill="#dce0e2"/><rect x="13" y="30" width="1" height="1" fill="#dee0e2"/><rect x="14" y="30" width="1" height="1" fill="#eaeaea"/><rect x="15" y="30" width="1" height="1" fill="#f0eeec"/><rect x="7" y="31" width="1" height="1" fill="#f2f0ee"/><rect x="11" y="31" width="1" height="1" fill="#eae8e8"/><rect x="12" y="31" width="1" height="1" fill="#eceaea"/><rect x="13" y="31" width="2" height="1" fill="#f0eeec"/><rect x="15" y="31" width="1" height="1" fill="#f4f0ee"/><rect x="7" y="32" width="1" height="1" fill="#f2eeec"/><rect x="12" y="32" width="1" height="1" fill="#f0eeec"/><rect x="13" y="32" width="1" height="1" fill="#f2f0ee"/><rect x="14" y="32" width="1" height="1" fill="#f4f2f0"/><rect x="15" y="32" width="1" height="1" fill="#f2f0ee"/><rect x="12" y="33" width="1" height="1" fill="#f4f0ee"/><rect x="13" y="33" width="1" height="1" fill="#f2eeec"/><rect x="14" y="33" width="1" height="1" fill="#f2f0ee"/><rect x="15" y="33" width="1" height="1" fill="#f4f2f0"/><rect x="16" y="33" width="1" height="1" fill="#f2f0ee"/><rect x="12" y="34" width="1" height="1" fill="#f2f0ee"/><rect x="13" y="34" width="1" height="1" fill="#f4f0ee"/><rect x="14" y="34" width="1" height="1" fill="#f2eeec"/><rect x="15" y="34" width="1" height="1" fill="#f2f0ee"/><rect x="16" y="34" width="1" height="1" fill="#f4f2f0"/><rect x="17" y="34" width="1" height="1" fill="#f2f0ee"/><rect x="13" y="35" width="1" height="1" fill="#f2f0ee"/><rect x="14" y="35" width="1" height="1" fill="#f4f0ee"/><rect x="15" y="35" width="1" height="1" fill="#f2eeec"/><rect x="17" y="35" width="1" height="1" fill="#f4f2f0"/><rect x="17" y="36" width="1" height="1" fill="#f2f0ee"/></g><g transform="translate(0.4 0)"><path d="M155 29 L153.5 29 L148.5 30 L143.5 32.5 L140 36.5 L136.5 42.5 L133.5 48.5 L130.5 54.5 L128.5 60.5 L128 64.5 L125.5 70.5 L123 77.5 L120.5 84.5 L117.5 90.5 L115.8 97.5 L114 102.5 L110.25 104.75 L108 107 L108.75 110 L110.7 114.5 L111 118.25 L109.8 122 L113.25 123.5 L117.75 126.5 L120 129.5 L121.5 134 L123.3 138.5 L124.2 143 L124.2 155 L164 155 L164 94 L160 97.5 L159 100 L156.5 101.5 L153.5 101 L151.5 99 L151 96.5 L151.5 93.5 L152.5 89.5 L154 86 L156 83 L156 80.5 L154.5 79.5 L153 81 L151 83 L150 82 L151 80.5 L151.5 77.5 L150 73.5 L148.8 68.5 L148.2 65 L148.6 61.5 L150 57.5 L150.5 52.5 L151 47.5 L152 42.5 L153.5 37.5 L155 32.5 L155.5 30 L155 29Z" fill="#efefdb"/><path d="M164 94 L160 97.5 L159 100 L156.5 101.5 L153.5 101 L151.5 99 L151 96.5 L151.5 93.5 L152.5 89.5 L154 86 L156 83 L156 80.5 L154.5 79.5 L153 81 L151 83 L150 82 L151 80.5 L151.5 77.5 L150 73.5 L148.8 68.5 L148.2 65 L148.6 61.5 L150 57.5 L150.5 52.5 L151 47.5 L152 42.5 L153.5 37.5 L155 32.5 L155.5 30 L155 29 L153.5 29 L148.5 30 L143.5 32.5 L140 36.5 L136.5 42.5 L133.5 48.5 L130.5 54.5 L128.5 60.5 L128 64.5 L125.5 70.5 L123 77.5 L120.5 84.5 L117.5 90.5 L115.8 97.5 L114 102.5 L110.25 104.75 L108 107 L108.75 110 L110.7 114.5 L111 118.25 L109.8 122 L113.25 123.5 L117.75 126.5 L120 129.5 L121.5 134 L123.3 138.5 L124.2 143 L124.2 155" fill="none" stroke="#7f7f7f" stroke-width="1.4" stroke-linejoin="round"/></g><g stroke="#b0b0b0" stroke-width="1.1" fill="none"><path d="M0.5 0L4.55 153.7"/><path d="M23.62 0L27.55 153.7"/><path d="M46.74 0L50.55 153.7"/><path d="M69.86 0L73.55 153.7"/><path d="M92.98 0L96.55 153.7"/><path d="M116.1 0L119.55 153.7"/><path d="M139.22 0L142.55 153.7"/><path d="M0 -5.76L162 -9.35"/><path d="M0 14L162 10.4"/><path d="M0 33.76L162 30.16"/><path d="M0 53.51L162 49.92"/><path d="M0 73.27L162 69.67"/><path d="M0 93.03L162 89.43"/><path d="M0 112.79L162 109.19"/><path d="M0 132.54L162 128.95"/><path d="M0 152.3L162 148.7"/><path d="M0 172.06L162 168.46"/></g></g></g><rect x="0" y="0" width="162" height="154" fill="none" stroke="#000" stroke-width="1.1"/></g>
<text transform="translate(958.7 96) scale(1 1.09)" font-size="16.67" text-anchor="middle" stroke="#000" stroke-width="0.2">dSST/dy [K km<tspan font-size="11.67" dy="-6.3">−1</tspan><tspan dy="6.3">]</tspan></text>
<text x="879.2" y="115.1" font-size="13.89" text-anchor="middle">112.5°E</text><text x="883.3" y="297.4" font-size="13.89" text-anchor="middle">112.5°E</text><text x="948.5" y="115.1" font-size="13.89" text-anchor="middle">113.25°E</text><text x="952" y="297.4" font-size="13.89" text-anchor="middle">113.25°E</text><text x="1017.8" y="115.1" font-size="13.89" text-anchor="middle">114°E</text><text x="1020.7" y="297.4" font-size="13.89" text-anchor="middle">114°E</text>
<linearGradient id="g3" x1="0" y1="0" x2="0" y2="1"><stop offset="0" stop-color="#1c1403"/><stop offset="0.12" stop-color="#4e3c16"/><stop offset="0.25" stop-color="#806a3c"/><stop offset="0.37" stop-color="#b8a88a"/><stop offset="0.5" stop-color="#f5f2f0"/><stop offset="0.62" stop-color="#a7b9cf"/><stop offset="0.75" stop-color="#6483ad"/><stop offset="0.87" stop-color="#2f5585"/><stop offset="1" stop-color="#07223f"/></linearGradient><rect x="1050.4" y="171.65" width="3.08" height="61.6" fill="url(#g3)" stroke="#000" stroke-width="1.1"/><path d="M1053.48 171.65h4.86" stroke="#000" stroke-width="1.1"/><text x="1063.18" y="176.7" font-size="13.89" text-anchor="start">0.2</text><path d="M1053.48 202.45h4.86" stroke="#000" stroke-width="1.1"/><text x="1063.18" y="207.5" font-size="13.89" text-anchor="start">0.0</text><path d="M1053.48 233.25h4.86" stroke="#000" stroke-width="1.1"/><text x="1063.18" y="238.3" font-size="13.89" text-anchor="start">−0.2</text>
</svg>
</body></html>
